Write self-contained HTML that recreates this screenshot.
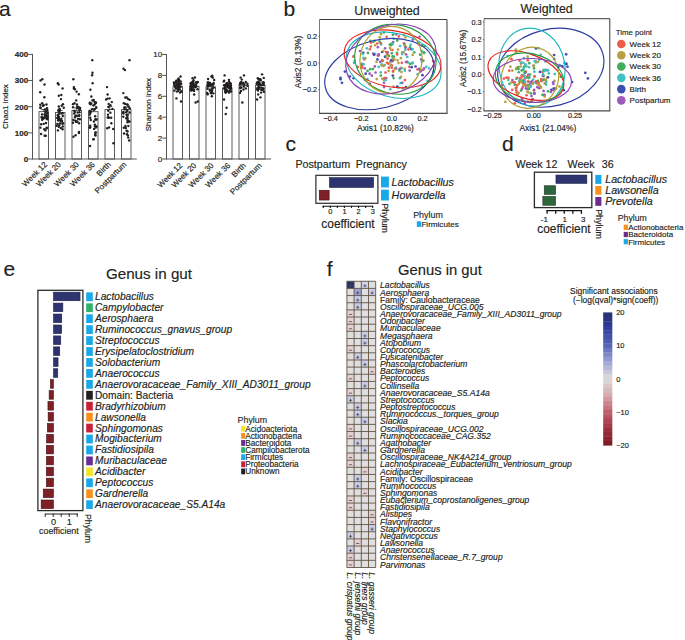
<!DOCTYPE html>
<html><head><meta charset="utf-8"><style>
html,body{margin:0;padding:0;background:#fff;width:685px;height:640px;overflow:hidden}
svg{display:block}
text{stroke:currentColor;stroke-width:0.16px;paint-order:stroke}
</style></head><body>
<svg width="685" height="640" viewBox="0 0 685 640" font-family='"Liberation Sans", sans-serif'>
<rect width="685" height="640" fill="#fff"/>
<text x="-1.00" y="15.90" font-size="21" fill="#231f20" color="#231f20">a</text>
<text x="283.40" y="15.90" font-size="21" fill="#231f20" color="#231f20">b</text>
<text x="285.60" y="150.90" font-size="21" fill="#231f20" color="#231f20">c</text>
<text x="502.00" y="150.90" font-size="21" fill="#231f20" color="#231f20">d</text>
<text x="3.60" y="276.30" font-size="21" fill="#231f20" color="#231f20">e</text>
<text x="326.80" y="276.00" font-size="21" fill="#231f20" color="#231f20">f</text>
<rect x="39.00" y="111.67" width="9.50" height="47.33" fill="#fff" stroke="#4a4a4a" stroke-width="0.9"/>
<rect x="55.50" y="112.45" width="9.50" height="46.55" fill="#fff" stroke="#4a4a4a" stroke-width="0.9"/>
<rect x="72.00" y="110.36" width="9.50" height="48.64" fill="#fff" stroke="#4a4a4a" stroke-width="0.9"/>
<rect x="88.50" y="111.67" width="9.50" height="47.33" fill="#fff" stroke="#4a4a4a" stroke-width="0.9"/>
<rect x="105.00" y="109.58" width="9.50" height="49.42" fill="#fff" stroke="#4a4a4a" stroke-width="0.9"/>
<rect x="121.50" y="109.58" width="9.50" height="49.42" fill="#fff" stroke="#4a4a4a" stroke-width="0.9"/>
<circle cx="44.71" cy="114.18" r="1.2" fill="#231f20"/>
<circle cx="42.24" cy="103.30" r="1.2" fill="#231f20"/>
<circle cx="43.81" cy="123.84" r="1.2" fill="#231f20"/>
<circle cx="42.88" cy="105.73" r="1.2" fill="#231f20"/>
<circle cx="42.62" cy="117.51" r="1.2" fill="#231f20"/>
<circle cx="44.40" cy="117.53" r="1.2" fill="#231f20"/>
<circle cx="44.39" cy="97.18" r="1.2" fill="#231f20"/>
<circle cx="46.82" cy="113.58" r="1.2" fill="#231f20"/>
<circle cx="45.13" cy="115.47" r="1.2" fill="#231f20"/>
<circle cx="47.01" cy="108.20" r="1.2" fill="#231f20"/>
<circle cx="46.46" cy="104.46" r="1.2" fill="#231f20"/>
<circle cx="47.48" cy="115.36" r="1.2" fill="#231f20"/>
<circle cx="45.05" cy="109.53" r="1.2" fill="#231f20"/>
<circle cx="41.19" cy="124.23" r="1.2" fill="#231f20"/>
<circle cx="46.49" cy="118.52" r="1.2" fill="#231f20"/>
<circle cx="47.28" cy="119.19" r="1.2" fill="#231f20"/>
<circle cx="46.83" cy="127.61" r="1.2" fill="#231f20"/>
<circle cx="44.28" cy="129.27" r="1.2" fill="#231f20"/>
<circle cx="45.38" cy="130.38" r="1.2" fill="#231f20"/>
<circle cx="41.55" cy="117.31" r="1.2" fill="#231f20"/>
<circle cx="46.27" cy="116.69" r="1.2" fill="#231f20"/>
<circle cx="44.31" cy="118.08" r="1.2" fill="#231f20"/>
<circle cx="42.12" cy="114.42" r="1.2" fill="#231f20"/>
<circle cx="40.43" cy="127.64" r="1.2" fill="#231f20"/>
<circle cx="46.44" cy="115.82" r="1.2" fill="#231f20"/>
<circle cx="47.47" cy="112.83" r="1.2" fill="#231f20"/>
<circle cx="40.62" cy="108.00" r="1.2" fill="#231f20"/>
<circle cx="46.03" cy="123.03" r="1.2" fill="#231f20"/>
<circle cx="43.07" cy="118.83" r="1.2" fill="#231f20"/>
<circle cx="41.10" cy="134.04" r="1.2" fill="#231f20"/>
<circle cx="42.18" cy="119.81" r="1.2" fill="#231f20"/>
<circle cx="45.79" cy="135.75" r="1.2" fill="#231f20"/>
<circle cx="46.58" cy="128.43" r="1.2" fill="#231f20"/>
<circle cx="40.29" cy="104.70" r="1.2" fill="#231f20"/>
<circle cx="44.62" cy="135.79" r="1.2" fill="#231f20"/>
<circle cx="40.29" cy="107.55" r="1.2" fill="#231f20"/>
<circle cx="45.41" cy="111.98" r="1.2" fill="#231f20"/>
<circle cx="42.47" cy="118.01" r="1.2" fill="#231f20"/>
<circle cx="46.64" cy="110.74" r="1.2" fill="#231f20"/>
<circle cx="47.40" cy="110.10" r="1.2" fill="#231f20"/>
<circle cx="43.79" cy="105.23" r="1.2" fill="#231f20"/>
<circle cx="47.54" cy="117.24" r="1.2" fill="#231f20"/>
<circle cx="42.30" cy="79.24" r="1.2" fill="#231f20"/>
<circle cx="40.53" cy="80.55" r="1.2" fill="#231f20"/>
<circle cx="44.51" cy="84.47" r="1.2" fill="#231f20"/>
<circle cx="40.19" cy="92.32" r="1.2" fill="#231f20"/>
<circle cx="61.59" cy="113.42" r="1.2" fill="#231f20"/>
<circle cx="63.77" cy="107.77" r="1.2" fill="#231f20"/>
<circle cx="58.36" cy="120.36" r="1.2" fill="#231f20"/>
<circle cx="59.92" cy="119.69" r="1.2" fill="#231f20"/>
<circle cx="60.95" cy="99.12" r="1.2" fill="#231f20"/>
<circle cx="58.88" cy="111.66" r="1.2" fill="#231f20"/>
<circle cx="59.22" cy="125.14" r="1.2" fill="#231f20"/>
<circle cx="58.83" cy="95.71" r="1.2" fill="#231f20"/>
<circle cx="59.26" cy="109.48" r="1.2" fill="#231f20"/>
<circle cx="60.98" cy="121.61" r="1.2" fill="#231f20"/>
<circle cx="58.73" cy="126.82" r="1.2" fill="#231f20"/>
<circle cx="59.32" cy="113.72" r="1.2" fill="#231f20"/>
<circle cx="62.32" cy="123.77" r="1.2" fill="#231f20"/>
<circle cx="56.65" cy="125.78" r="1.2" fill="#231f20"/>
<circle cx="60.78" cy="127.90" r="1.2" fill="#231f20"/>
<circle cx="62.04" cy="120.88" r="1.2" fill="#231f20"/>
<circle cx="58.81" cy="106.53" r="1.2" fill="#231f20"/>
<circle cx="58.14" cy="120.23" r="1.2" fill="#231f20"/>
<circle cx="62.56" cy="129.26" r="1.2" fill="#231f20"/>
<circle cx="58.26" cy="110.43" r="1.2" fill="#231f20"/>
<circle cx="57.87" cy="115.79" r="1.2" fill="#231f20"/>
<circle cx="59.76" cy="108.87" r="1.2" fill="#231f20"/>
<circle cx="61.76" cy="105.69" r="1.2" fill="#231f20"/>
<circle cx="57.22" cy="117.88" r="1.2" fill="#231f20"/>
<circle cx="58.90" cy="117.66" r="1.2" fill="#231f20"/>
<circle cx="58.99" cy="116.78" r="1.2" fill="#231f20"/>
<circle cx="62.78" cy="126.46" r="1.2" fill="#231f20"/>
<circle cx="59.78" cy="110.43" r="1.2" fill="#231f20"/>
<circle cx="62.95" cy="104.18" r="1.2" fill="#231f20"/>
<circle cx="57.74" cy="114.83" r="1.2" fill="#231f20"/>
<circle cx="59.01" cy="118.49" r="1.2" fill="#231f20"/>
<circle cx="61.39" cy="118.69" r="1.2" fill="#231f20"/>
<circle cx="63.18" cy="123.32" r="1.2" fill="#231f20"/>
<circle cx="59.88" cy="123.52" r="1.2" fill="#231f20"/>
<circle cx="58.16" cy="119.94" r="1.2" fill="#231f20"/>
<circle cx="57.37" cy="123.86" r="1.2" fill="#231f20"/>
<circle cx="60.48" cy="120.26" r="1.2" fill="#231f20"/>
<circle cx="57.90" cy="130.40" r="1.2" fill="#231f20"/>
<circle cx="62.58" cy="113.26" r="1.2" fill="#231f20"/>
<circle cx="62.82" cy="115.94" r="1.2" fill="#231f20"/>
<circle cx="57.85" cy="83.16" r="1.2" fill="#231f20"/>
<circle cx="58.57" cy="84.47" r="1.2" fill="#231f20"/>
<circle cx="62.58" cy="88.39" r="1.2" fill="#231f20"/>
<circle cx="61.33" cy="94.93" r="1.2" fill="#231f20"/>
<circle cx="79.79" cy="109.81" r="1.2" fill="#231f20"/>
<circle cx="77.33" cy="121.56" r="1.2" fill="#231f20"/>
<circle cx="73.05" cy="107.31" r="1.2" fill="#231f20"/>
<circle cx="78.61" cy="106.97" r="1.2" fill="#231f20"/>
<circle cx="74.26" cy="110.83" r="1.2" fill="#231f20"/>
<circle cx="75.23" cy="120.58" r="1.2" fill="#231f20"/>
<circle cx="77.99" cy="118.85" r="1.2" fill="#231f20"/>
<circle cx="76.94" cy="104.49" r="1.2" fill="#231f20"/>
<circle cx="76.09" cy="121.91" r="1.2" fill="#231f20"/>
<circle cx="80.09" cy="108.05" r="1.2" fill="#231f20"/>
<circle cx="77.60" cy="107.89" r="1.2" fill="#231f20"/>
<circle cx="75.54" cy="115.74" r="1.2" fill="#231f20"/>
<circle cx="74.87" cy="89.18" r="1.2" fill="#231f20"/>
<circle cx="79.50" cy="112.28" r="1.2" fill="#231f20"/>
<circle cx="76.58" cy="91.65" r="1.2" fill="#231f20"/>
<circle cx="78.90" cy="133.01" r="1.2" fill="#231f20"/>
<circle cx="75.62" cy="135.27" r="1.2" fill="#231f20"/>
<circle cx="74.45" cy="103.22" r="1.2" fill="#231f20"/>
<circle cx="77.01" cy="106.65" r="1.2" fill="#231f20"/>
<circle cx="79.16" cy="116.08" r="1.2" fill="#231f20"/>
<circle cx="74.25" cy="113.51" r="1.2" fill="#231f20"/>
<circle cx="78.97" cy="131.89" r="1.2" fill="#231f20"/>
<circle cx="79.96" cy="119.23" r="1.2" fill="#231f20"/>
<circle cx="79.08" cy="123.25" r="1.2" fill="#231f20"/>
<circle cx="79.21" cy="115.18" r="1.2" fill="#231f20"/>
<circle cx="73.01" cy="104.17" r="1.2" fill="#231f20"/>
<circle cx="77.73" cy="112.45" r="1.2" fill="#231f20"/>
<circle cx="79.51" cy="109.28" r="1.2" fill="#231f20"/>
<circle cx="73.33" cy="119.91" r="1.2" fill="#231f20"/>
<circle cx="75.01" cy="117.30" r="1.2" fill="#231f20"/>
<circle cx="74.99" cy="111.86" r="1.2" fill="#231f20"/>
<circle cx="76.96" cy="115.78" r="1.2" fill="#231f20"/>
<circle cx="76.16" cy="100.41" r="1.2" fill="#231f20"/>
<circle cx="76.54" cy="121.68" r="1.2" fill="#231f20"/>
<circle cx="78.85" cy="94.19" r="1.2" fill="#231f20"/>
<circle cx="72.96" cy="122.72" r="1.2" fill="#231f20"/>
<circle cx="73.37" cy="79.24" r="1.2" fill="#231f20"/>
<circle cx="73.91" cy="87.09" r="1.2" fill="#231f20"/>
<circle cx="73.90" cy="88.39" r="1.2" fill="#231f20"/>
<circle cx="73.47" cy="136.77" r="1.2" fill="#231f20"/>
<circle cx="90.39" cy="89.72" r="1.2" fill="#231f20"/>
<circle cx="95.63" cy="119.13" r="1.2" fill="#231f20"/>
<circle cx="94.48" cy="101.83" r="1.2" fill="#231f20"/>
<circle cx="96.19" cy="107.11" r="1.2" fill="#231f20"/>
<circle cx="95.47" cy="119.64" r="1.2" fill="#231f20"/>
<circle cx="94.52" cy="104.66" r="1.2" fill="#231f20"/>
<circle cx="95.03" cy="126.28" r="1.2" fill="#231f20"/>
<circle cx="93.74" cy="99.90" r="1.2" fill="#231f20"/>
<circle cx="90.23" cy="125.65" r="1.2" fill="#231f20"/>
<circle cx="93.92" cy="121.47" r="1.2" fill="#231f20"/>
<circle cx="89.49" cy="110.84" r="1.2" fill="#231f20"/>
<circle cx="90.54" cy="104.18" r="1.2" fill="#231f20"/>
<circle cx="95.33" cy="103.20" r="1.2" fill="#231f20"/>
<circle cx="89.79" cy="103.39" r="1.2" fill="#231f20"/>
<circle cx="90.15" cy="117.78" r="1.2" fill="#231f20"/>
<circle cx="90.20" cy="127.57" r="1.2" fill="#231f20"/>
<circle cx="96.14" cy="107.88" r="1.2" fill="#231f20"/>
<circle cx="90.81" cy="111.12" r="1.2" fill="#231f20"/>
<circle cx="89.63" cy="127.52" r="1.2" fill="#231f20"/>
<circle cx="95.85" cy="102.34" r="1.2" fill="#231f20"/>
<circle cx="90.37" cy="112.46" r="1.2" fill="#231f20"/>
<circle cx="95.86" cy="127.59" r="1.2" fill="#231f20"/>
<circle cx="94.57" cy="109.30" r="1.2" fill="#231f20"/>
<circle cx="95.80" cy="132.39" r="1.2" fill="#231f20"/>
<circle cx="96.69" cy="126.54" r="1.2" fill="#231f20"/>
<circle cx="93.85" cy="109.81" r="1.2" fill="#231f20"/>
<circle cx="95.52" cy="135.43" r="1.2" fill="#231f20"/>
<circle cx="89.73" cy="114.58" r="1.2" fill="#231f20"/>
<circle cx="95.28" cy="132.73" r="1.2" fill="#231f20"/>
<circle cx="93.34" cy="105.43" r="1.2" fill="#231f20"/>
<circle cx="94.89" cy="124.58" r="1.2" fill="#231f20"/>
<circle cx="90.26" cy="112.68" r="1.2" fill="#231f20"/>
<circle cx="95.14" cy="134.71" r="1.2" fill="#231f20"/>
<circle cx="96.55" cy="119.57" r="1.2" fill="#231f20"/>
<circle cx="89.91" cy="102.68" r="1.2" fill="#231f20"/>
<circle cx="91.91" cy="109.09" r="1.2" fill="#231f20"/>
<circle cx="93.74" cy="139.11" r="1.2" fill="#231f20"/>
<circle cx="95.74" cy="102.98" r="1.2" fill="#231f20"/>
<circle cx="91.29" cy="103.40" r="1.2" fill="#231f20"/>
<circle cx="90.82" cy="119.99" r="1.2" fill="#231f20"/>
<circle cx="91.35" cy="96.54" r="1.2" fill="#231f20"/>
<circle cx="94.13" cy="128.92" r="1.2" fill="#231f20"/>
<circle cx="95.18" cy="116.18" r="1.2" fill="#231f20"/>
<circle cx="92.44" cy="100.51" r="1.2" fill="#231f20"/>
<circle cx="92.24" cy="60.15" r="1.2" fill="#231f20"/>
<circle cx="92.46" cy="72.70" r="1.2" fill="#231f20"/>
<circle cx="92.11" cy="75.32" r="1.2" fill="#231f20"/>
<circle cx="92.63" cy="83.16" r="1.2" fill="#231f20"/>
<circle cx="90.08" cy="145.93" r="1.2" fill="#231f20"/>
<circle cx="93.25" cy="139.39" r="1.2" fill="#231f20"/>
<circle cx="107.46" cy="98.65" r="1.2" fill="#231f20"/>
<circle cx="110.40" cy="112.67" r="1.2" fill="#231f20"/>
<circle cx="108.34" cy="110.74" r="1.2" fill="#231f20"/>
<circle cx="107.72" cy="117.59" r="1.2" fill="#231f20"/>
<circle cx="111.20" cy="117.80" r="1.2" fill="#231f20"/>
<circle cx="113.20" cy="129.04" r="1.2" fill="#231f20"/>
<circle cx="108.20" cy="117.16" r="1.2" fill="#231f20"/>
<circle cx="111.31" cy="123.23" r="1.2" fill="#231f20"/>
<circle cx="109.09" cy="127.42" r="1.2" fill="#231f20"/>
<circle cx="112.44" cy="108.90" r="1.2" fill="#231f20"/>
<circle cx="110.39" cy="105.27" r="1.2" fill="#231f20"/>
<circle cx="107.98" cy="114.64" r="1.2" fill="#231f20"/>
<circle cx="107.60" cy="94.52" r="1.2" fill="#231f20"/>
<circle cx="106.13" cy="99.55" r="1.2" fill="#231f20"/>
<circle cx="109.59" cy="98.33" r="1.2" fill="#231f20"/>
<circle cx="108.86" cy="117.73" r="1.2" fill="#231f20"/>
<circle cx="107.26" cy="128.18" r="1.2" fill="#231f20"/>
<circle cx="108.69" cy="104.06" r="1.2" fill="#231f20"/>
<circle cx="108.40" cy="107.00" r="1.2" fill="#231f20"/>
<circle cx="111.83" cy="102.08" r="1.2" fill="#231f20"/>
<circle cx="107.04" cy="87.09" r="1.2" fill="#231f20"/>
<circle cx="113.48" cy="143.31" r="1.2" fill="#231f20"/>
<circle cx="125.77" cy="128.05" r="1.2" fill="#231f20"/>
<circle cx="126.14" cy="112.21" r="1.2" fill="#231f20"/>
<circle cx="124.05" cy="133.47" r="1.2" fill="#231f20"/>
<circle cx="126.90" cy="110.07" r="1.2" fill="#231f20"/>
<circle cx="129.71" cy="108.22" r="1.2" fill="#231f20"/>
<circle cx="125.42" cy="126.04" r="1.2" fill="#231f20"/>
<circle cx="126.59" cy="130.61" r="1.2" fill="#231f20"/>
<circle cx="123.36" cy="112.06" r="1.2" fill="#231f20"/>
<circle cx="124.54" cy="107.45" r="1.2" fill="#231f20"/>
<circle cx="127.51" cy="122.31" r="1.2" fill="#231f20"/>
<circle cx="123.31" cy="116.76" r="1.2" fill="#231f20"/>
<circle cx="129.19" cy="140.45" r="1.2" fill="#231f20"/>
<circle cx="129.36" cy="121.42" r="1.2" fill="#231f20"/>
<circle cx="123.19" cy="112.49" r="1.2" fill="#231f20"/>
<circle cx="129.60" cy="112.43" r="1.2" fill="#231f20"/>
<circle cx="125.29" cy="97.46" r="1.2" fill="#231f20"/>
<circle cx="128.32" cy="125.96" r="1.2" fill="#231f20"/>
<circle cx="128.21" cy="137.58" r="1.2" fill="#231f20"/>
<circle cx="124.70" cy="109.29" r="1.2" fill="#231f20"/>
<circle cx="127.59" cy="120.21" r="1.2" fill="#231f20"/>
<circle cx="127.42" cy="111.03" r="1.2" fill="#231f20"/>
<circle cx="128.58" cy="106.51" r="1.2" fill="#231f20"/>
<circle cx="124.47" cy="107.74" r="1.2" fill="#231f20"/>
<circle cx="128.18" cy="98.94" r="1.2" fill="#231f20"/>
<circle cx="129.76" cy="99.87" r="1.2" fill="#231f20"/>
<circle cx="127.56" cy="131.43" r="1.2" fill="#231f20"/>
<circle cx="126.52" cy="114.68" r="1.2" fill="#231f20"/>
<circle cx="123.31" cy="93.10" r="1.2" fill="#231f20"/>
<circle cx="126.20" cy="118.28" r="1.2" fill="#231f20"/>
<circle cx="125.13" cy="103.91" r="1.2" fill="#231f20"/>
<circle cx="127.91" cy="114.61" r="1.2" fill="#231f20"/>
<circle cx="127.61" cy="118.42" r="1.2" fill="#231f20"/>
<circle cx="126.75" cy="97.47" r="1.2" fill="#231f20"/>
<circle cx="123.83" cy="103.13" r="1.2" fill="#231f20"/>
<circle cx="127.36" cy="116.57" r="1.2" fill="#231f20"/>
<circle cx="127.24" cy="104.53" r="1.2" fill="#231f20"/>
<circle cx="123.81" cy="127.76" r="1.2" fill="#231f20"/>
<circle cx="129.21" cy="121.61" r="1.2" fill="#231f20"/>
<circle cx="127.43" cy="104.59" r="1.2" fill="#231f20"/>
<circle cx="123.39" cy="113.61" r="1.2" fill="#231f20"/>
<circle cx="129.53" cy="60.15" r="1.2" fill="#231f20"/>
<circle cx="123.52" cy="68.78" r="1.2" fill="#231f20"/>
<circle cx="124.97" cy="70.09" r="1.2" fill="#231f20"/>
<circle cx="127.93" cy="135.47" r="1.2" fill="#231f20"/>
<circle cx="126.99" cy="134.16" r="1.2" fill="#231f20"/>
<line x1="43.75" y1="109.58" x2="43.75" y2="111.67" stroke="#231f20" stroke-width="0.8"/>
<line x1="41.25" y1="109.58" x2="46.25" y2="109.58" stroke="#231f20" stroke-width="0.8"/>
<line x1="60.25" y1="110.36" x2="60.25" y2="112.45" stroke="#231f20" stroke-width="0.8"/>
<line x1="57.75" y1="110.36" x2="62.75" y2="110.36" stroke="#231f20" stroke-width="0.8"/>
<line x1="76.75" y1="108.01" x2="76.75" y2="110.36" stroke="#231f20" stroke-width="0.8"/>
<line x1="74.25" y1="108.01" x2="79.25" y2="108.01" stroke="#231f20" stroke-width="0.8"/>
<line x1="93.25" y1="109.05" x2="93.25" y2="111.67" stroke="#231f20" stroke-width="0.8"/>
<line x1="90.75" y1="109.05" x2="95.75" y2="109.05" stroke="#231f20" stroke-width="0.8"/>
<line x1="109.75" y1="106.44" x2="109.75" y2="109.58" stroke="#231f20" stroke-width="0.8"/>
<line x1="107.25" y1="106.44" x2="112.25" y2="106.44" stroke="#231f20" stroke-width="0.8"/>
<line x1="126.25" y1="106.96" x2="126.25" y2="109.58" stroke="#231f20" stroke-width="0.8"/>
<line x1="123.75" y1="106.96" x2="128.75" y2="106.96" stroke="#231f20" stroke-width="0.8"/>
<line x1="32.50" y1="53.90" x2="32.50" y2="159.50" stroke="#555555" stroke-width="1"/>
<line x1="32.50" y1="159.00" x2="136.80" y2="159.00" stroke="#555555" stroke-width="1"/>
<line x1="28.20" y1="159.00" x2="32.50" y2="159.00" stroke="#555555" stroke-width="1"/>
<text x="28.10" y="161.90" font-size="8" text-anchor="end" font-weight="bold" fill="#231f20" color="#231f20">0</text>
<line x1="28.20" y1="132.85" x2="32.50" y2="132.85" stroke="#555555" stroke-width="1"/>
<text x="28.10" y="135.75" font-size="8" text-anchor="end" font-weight="bold" fill="#231f20" color="#231f20">100</text>
<line x1="28.20" y1="106.70" x2="32.50" y2="106.70" stroke="#555555" stroke-width="1"/>
<text x="28.10" y="109.60" font-size="8" text-anchor="end" font-weight="bold" fill="#231f20" color="#231f20">200</text>
<line x1="28.20" y1="80.55" x2="32.50" y2="80.55" stroke="#555555" stroke-width="1"/>
<text x="28.10" y="83.45" font-size="8" text-anchor="end" font-weight="bold" fill="#231f20" color="#231f20">300</text>
<line x1="28.20" y1="54.40" x2="32.50" y2="54.40" stroke="#555555" stroke-width="1"/>
<text x="28.10" y="57.30" font-size="8" text-anchor="end" font-weight="bold" fill="#231f20" color="#231f20">400</text>
<text x="7.70" y="106.60" font-size="8" text-anchor="middle" fill="#231f20" color="#231f20" transform="rotate(-90 7.70 106.60)">Chao1 index</text>
<rect x="173.00" y="86.37" width="9.50" height="72.63" fill="#fff" stroke="#4a4a4a" stroke-width="0.9"/>
<rect x="189.50" y="86.37" width="9.50" height="72.63" fill="#fff" stroke="#4a4a4a" stroke-width="0.9"/>
<rect x="206.00" y="86.89" width="9.50" height="72.11" fill="#fff" stroke="#4a4a4a" stroke-width="0.9"/>
<rect x="222.50" y="87.94" width="9.50" height="71.06" fill="#fff" stroke="#4a4a4a" stroke-width="0.9"/>
<rect x="239.00" y="85.33" width="9.50" height="73.67" fill="#fff" stroke="#4a4a4a" stroke-width="0.9"/>
<rect x="255.50" y="85.33" width="9.50" height="73.67" fill="#fff" stroke="#4a4a4a" stroke-width="0.9"/>
<circle cx="178.27" cy="90.72" r="1.2" fill="#231f20"/>
<circle cx="175.49" cy="87.27" r="1.2" fill="#231f20"/>
<circle cx="175.85" cy="88.64" r="1.2" fill="#231f20"/>
<circle cx="179.89" cy="84.42" r="1.2" fill="#231f20"/>
<circle cx="174.18" cy="84.66" r="1.2" fill="#231f20"/>
<circle cx="180.05" cy="83.99" r="1.2" fill="#231f20"/>
<circle cx="180.72" cy="86.75" r="1.2" fill="#231f20"/>
<circle cx="181.16" cy="91.83" r="1.2" fill="#231f20"/>
<circle cx="176.86" cy="91.60" r="1.2" fill="#231f20"/>
<circle cx="178.15" cy="87.07" r="1.2" fill="#231f20"/>
<circle cx="178.38" cy="87.31" r="1.2" fill="#231f20"/>
<circle cx="178.77" cy="82.91" r="1.2" fill="#231f20"/>
<circle cx="181.38" cy="91.32" r="1.2" fill="#231f20"/>
<circle cx="179.17" cy="79.94" r="1.2" fill="#231f20"/>
<circle cx="176.23" cy="80.78" r="1.2" fill="#231f20"/>
<circle cx="180.49" cy="84.10" r="1.2" fill="#231f20"/>
<circle cx="177.63" cy="85.21" r="1.2" fill="#231f20"/>
<circle cx="178.52" cy="78.53" r="1.2" fill="#231f20"/>
<circle cx="179.47" cy="87.50" r="1.2" fill="#231f20"/>
<circle cx="173.97" cy="82.49" r="1.2" fill="#231f20"/>
<circle cx="179.81" cy="89.40" r="1.2" fill="#231f20"/>
<circle cx="178.98" cy="82.50" r="1.2" fill="#231f20"/>
<circle cx="177.69" cy="84.82" r="1.2" fill="#231f20"/>
<circle cx="177.93" cy="89.00" r="1.2" fill="#231f20"/>
<circle cx="177.45" cy="84.22" r="1.2" fill="#231f20"/>
<circle cx="175.42" cy="86.92" r="1.2" fill="#231f20"/>
<circle cx="177.97" cy="85.56" r="1.2" fill="#231f20"/>
<circle cx="174.23" cy="83.52" r="1.2" fill="#231f20"/>
<circle cx="177.75" cy="80.09" r="1.2" fill="#231f20"/>
<circle cx="178.86" cy="80.84" r="1.2" fill="#231f20"/>
<circle cx="177.33" cy="85.69" r="1.2" fill="#231f20"/>
<circle cx="178.25" cy="87.84" r="1.2" fill="#231f20"/>
<circle cx="181.24" cy="83.79" r="1.2" fill="#231f20"/>
<circle cx="180.73" cy="81.50" r="1.2" fill="#231f20"/>
<circle cx="174.98" cy="85.63" r="1.2" fill="#231f20"/>
<circle cx="179.97" cy="92.62" r="1.2" fill="#231f20"/>
<circle cx="178.69" cy="85.37" r="1.2" fill="#231f20"/>
<circle cx="174.33" cy="90.64" r="1.2" fill="#231f20"/>
<circle cx="176.69" cy="82.90" r="1.2" fill="#231f20"/>
<circle cx="175.72" cy="82.14" r="1.2" fill="#231f20"/>
<circle cx="174.54" cy="83.64" r="1.2" fill="#231f20"/>
<circle cx="178.05" cy="80.77" r="1.2" fill="#231f20"/>
<circle cx="181.02" cy="101.53" r="1.2" fill="#231f20"/>
<circle cx="176.41" cy="98.39" r="1.2" fill="#231f20"/>
<circle cx="180.57" cy="76.45" r="1.2" fill="#231f20"/>
<circle cx="193.95" cy="86.58" r="1.2" fill="#231f20"/>
<circle cx="191.93" cy="87.86" r="1.2" fill="#231f20"/>
<circle cx="192.04" cy="82.46" r="1.2" fill="#231f20"/>
<circle cx="191.75" cy="90.03" r="1.2" fill="#231f20"/>
<circle cx="193.52" cy="80.20" r="1.2" fill="#231f20"/>
<circle cx="191.73" cy="88.64" r="1.2" fill="#231f20"/>
<circle cx="190.66" cy="86.09" r="1.2" fill="#231f20"/>
<circle cx="191.29" cy="89.49" r="1.2" fill="#231f20"/>
<circle cx="191.73" cy="82.64" r="1.2" fill="#231f20"/>
<circle cx="194.18" cy="94.47" r="1.2" fill="#231f20"/>
<circle cx="190.90" cy="83.11" r="1.2" fill="#231f20"/>
<circle cx="190.62" cy="89.10" r="1.2" fill="#231f20"/>
<circle cx="193.85" cy="85.65" r="1.2" fill="#231f20"/>
<circle cx="193.55" cy="90.42" r="1.2" fill="#231f20"/>
<circle cx="195.80" cy="84.94" r="1.2" fill="#231f20"/>
<circle cx="190.84" cy="85.11" r="1.2" fill="#231f20"/>
<circle cx="193.52" cy="83.51" r="1.2" fill="#231f20"/>
<circle cx="193.46" cy="84.60" r="1.2" fill="#231f20"/>
<circle cx="190.65" cy="83.38" r="1.2" fill="#231f20"/>
<circle cx="197.79" cy="81.91" r="1.2" fill="#231f20"/>
<circle cx="192.11" cy="87.40" r="1.2" fill="#231f20"/>
<circle cx="191.17" cy="90.53" r="1.2" fill="#231f20"/>
<circle cx="194.06" cy="90.92" r="1.2" fill="#231f20"/>
<circle cx="191.70" cy="83.15" r="1.2" fill="#231f20"/>
<circle cx="195.18" cy="87.34" r="1.2" fill="#231f20"/>
<circle cx="193.08" cy="81.67" r="1.2" fill="#231f20"/>
<circle cx="191.39" cy="85.67" r="1.2" fill="#231f20"/>
<circle cx="190.84" cy="89.87" r="1.2" fill="#231f20"/>
<circle cx="195.98" cy="82.25" r="1.2" fill="#231f20"/>
<circle cx="192.54" cy="78.14" r="1.2" fill="#231f20"/>
<circle cx="196.44" cy="86.57" r="1.2" fill="#231f20"/>
<circle cx="193.99" cy="89.58" r="1.2" fill="#231f20"/>
<circle cx="197.54" cy="89.21" r="1.2" fill="#231f20"/>
<circle cx="192.73" cy="82.32" r="1.2" fill="#231f20"/>
<circle cx="192.35" cy="88.17" r="1.2" fill="#231f20"/>
<circle cx="192.47" cy="87.46" r="1.2" fill="#231f20"/>
<circle cx="196.64" cy="83.13" r="1.2" fill="#231f20"/>
<circle cx="195.23" cy="85.80" r="1.2" fill="#231f20"/>
<circle cx="193.07" cy="85.39" r="1.2" fill="#231f20"/>
<circle cx="191.16" cy="88.01" r="1.2" fill="#231f20"/>
<circle cx="195.64" cy="102.57" r="1.2" fill="#231f20"/>
<circle cx="197.82" cy="101.53" r="1.2" fill="#231f20"/>
<circle cx="194.95" cy="77.49" r="1.2" fill="#231f20"/>
<circle cx="210.60" cy="84.87" r="1.2" fill="#231f20"/>
<circle cx="209.00" cy="85.83" r="1.2" fill="#231f20"/>
<circle cx="208.24" cy="83.81" r="1.2" fill="#231f20"/>
<circle cx="212.43" cy="84.54" r="1.2" fill="#231f20"/>
<circle cx="211.55" cy="84.56" r="1.2" fill="#231f20"/>
<circle cx="212.35" cy="85.55" r="1.2" fill="#231f20"/>
<circle cx="209.89" cy="90.67" r="1.2" fill="#231f20"/>
<circle cx="210.65" cy="92.88" r="1.2" fill="#231f20"/>
<circle cx="208.12" cy="82.58" r="1.2" fill="#231f20"/>
<circle cx="212.35" cy="75.64" r="1.2" fill="#231f20"/>
<circle cx="207.12" cy="92.94" r="1.2" fill="#231f20"/>
<circle cx="210.50" cy="84.81" r="1.2" fill="#231f20"/>
<circle cx="212.71" cy="77.67" r="1.2" fill="#231f20"/>
<circle cx="212.10" cy="90.52" r="1.2" fill="#231f20"/>
<circle cx="207.69" cy="82.54" r="1.2" fill="#231f20"/>
<circle cx="208.75" cy="85.13" r="1.2" fill="#231f20"/>
<circle cx="213.36" cy="93.37" r="1.2" fill="#231f20"/>
<circle cx="211.83" cy="91.83" r="1.2" fill="#231f20"/>
<circle cx="213.63" cy="83.03" r="1.2" fill="#231f20"/>
<circle cx="213.58" cy="84.12" r="1.2" fill="#231f20"/>
<circle cx="210.37" cy="84.70" r="1.2" fill="#231f20"/>
<circle cx="213.77" cy="87.44" r="1.2" fill="#231f20"/>
<circle cx="212.52" cy="88.61" r="1.2" fill="#231f20"/>
<circle cx="209.49" cy="83.56" r="1.2" fill="#231f20"/>
<circle cx="209.76" cy="89.73" r="1.2" fill="#231f20"/>
<circle cx="207.50" cy="94.10" r="1.2" fill="#231f20"/>
<circle cx="209.98" cy="82.88" r="1.2" fill="#231f20"/>
<circle cx="214.21" cy="80.05" r="1.2" fill="#231f20"/>
<circle cx="207.75" cy="86.61" r="1.2" fill="#231f20"/>
<circle cx="211.27" cy="93.36" r="1.2" fill="#231f20"/>
<circle cx="207.79" cy="94.35" r="1.2" fill="#231f20"/>
<circle cx="207.56" cy="88.81" r="1.2" fill="#231f20"/>
<circle cx="211.88" cy="88.53" r="1.2" fill="#231f20"/>
<circle cx="208.78" cy="82.73" r="1.2" fill="#231f20"/>
<circle cx="207.32" cy="84.96" r="1.2" fill="#231f20"/>
<circle cx="208.11" cy="79.00" r="1.2" fill="#231f20"/>
<circle cx="211.85" cy="96.30" r="1.2" fill="#231f20"/>
<circle cx="211.40" cy="76.45" r="1.2" fill="#231f20"/>
<circle cx="226.66" cy="83.51" r="1.2" fill="#231f20"/>
<circle cx="228.38" cy="86.16" r="1.2" fill="#231f20"/>
<circle cx="228.05" cy="83.63" r="1.2" fill="#231f20"/>
<circle cx="225.08" cy="86.94" r="1.2" fill="#231f20"/>
<circle cx="226.11" cy="90.20" r="1.2" fill="#231f20"/>
<circle cx="231.02" cy="87.96" r="1.2" fill="#231f20"/>
<circle cx="226.00" cy="85.32" r="1.2" fill="#231f20"/>
<circle cx="226.72" cy="91.68" r="1.2" fill="#231f20"/>
<circle cx="224.09" cy="85.19" r="1.2" fill="#231f20"/>
<circle cx="225.11" cy="91.14" r="1.2" fill="#231f20"/>
<circle cx="224.71" cy="85.43" r="1.2" fill="#231f20"/>
<circle cx="230.53" cy="84.07" r="1.2" fill="#231f20"/>
<circle cx="228.97" cy="79.85" r="1.2" fill="#231f20"/>
<circle cx="230.10" cy="82.83" r="1.2" fill="#231f20"/>
<circle cx="230.95" cy="85.71" r="1.2" fill="#231f20"/>
<circle cx="228.10" cy="85.80" r="1.2" fill="#231f20"/>
<circle cx="230.53" cy="83.78" r="1.2" fill="#231f20"/>
<circle cx="227.52" cy="86.93" r="1.2" fill="#231f20"/>
<circle cx="226.63" cy="85.05" r="1.2" fill="#231f20"/>
<circle cx="230.66" cy="87.42" r="1.2" fill="#231f20"/>
<circle cx="230.31" cy="89.12" r="1.2" fill="#231f20"/>
<circle cx="230.67" cy="85.76" r="1.2" fill="#231f20"/>
<circle cx="227.13" cy="83.74" r="1.2" fill="#231f20"/>
<circle cx="229.33" cy="91.19" r="1.2" fill="#231f20"/>
<circle cx="226.54" cy="90.60" r="1.2" fill="#231f20"/>
<circle cx="231.03" cy="91.60" r="1.2" fill="#231f20"/>
<circle cx="230.44" cy="83.84" r="1.2" fill="#231f20"/>
<circle cx="225.67" cy="89.01" r="1.2" fill="#231f20"/>
<circle cx="230.55" cy="89.81" r="1.2" fill="#231f20"/>
<circle cx="224.85" cy="88.98" r="1.2" fill="#231f20"/>
<circle cx="224.18" cy="80.59" r="1.2" fill="#231f20"/>
<circle cx="228.94" cy="81.53" r="1.2" fill="#231f20"/>
<circle cx="225.69" cy="92.42" r="1.2" fill="#231f20"/>
<circle cx="227.40" cy="90.45" r="1.2" fill="#231f20"/>
<circle cx="228.31" cy="85.02" r="1.2" fill="#231f20"/>
<circle cx="223.76" cy="81.62" r="1.2" fill="#231f20"/>
<circle cx="229.11" cy="92.62" r="1.2" fill="#231f20"/>
<circle cx="225.55" cy="84.94" r="1.2" fill="#231f20"/>
<circle cx="226.74" cy="83.13" r="1.2" fill="#231f20"/>
<circle cx="226.07" cy="84.66" r="1.2" fill="#231f20"/>
<circle cx="229.09" cy="87.90" r="1.2" fill="#231f20"/>
<circle cx="229.13" cy="86.22" r="1.2" fill="#231f20"/>
<circle cx="225.63" cy="92.50" r="1.2" fill="#231f20"/>
<circle cx="224.24" cy="88.48" r="1.2" fill="#231f20"/>
<circle cx="225.72" cy="114.06" r="1.2" fill="#231f20"/>
<circle cx="226.57" cy="107.80" r="1.2" fill="#231f20"/>
<circle cx="224.04" cy="99.44" r="1.2" fill="#231f20"/>
<circle cx="224.61" cy="75.40" r="1.2" fill="#231f20"/>
<circle cx="240.03" cy="84.31" r="1.2" fill="#231f20"/>
<circle cx="240.95" cy="90.95" r="1.2" fill="#231f20"/>
<circle cx="243.98" cy="75.40" r="1.2" fill="#231f20"/>
<circle cx="244.02" cy="86.44" r="1.2" fill="#231f20"/>
<circle cx="241.21" cy="82.07" r="1.2" fill="#231f20"/>
<circle cx="240.33" cy="87.50" r="1.2" fill="#231f20"/>
<circle cx="241.50" cy="82.99" r="1.2" fill="#231f20"/>
<circle cx="245.80" cy="81.89" r="1.2" fill="#231f20"/>
<circle cx="243.49" cy="89.53" r="1.2" fill="#231f20"/>
<circle cx="247.39" cy="83.69" r="1.2" fill="#231f20"/>
<circle cx="245.92" cy="88.42" r="1.2" fill="#231f20"/>
<circle cx="247.39" cy="85.78" r="1.2" fill="#231f20"/>
<circle cx="240.22" cy="82.85" r="1.2" fill="#231f20"/>
<circle cx="241.36" cy="87.40" r="1.2" fill="#231f20"/>
<circle cx="240.05" cy="92.87" r="1.2" fill="#231f20"/>
<circle cx="243.24" cy="82.90" r="1.2" fill="#231f20"/>
<circle cx="242.52" cy="83.63" r="1.2" fill="#231f20"/>
<circle cx="240.34" cy="87.93" r="1.2" fill="#231f20"/>
<circle cx="244.10" cy="84.47" r="1.2" fill="#231f20"/>
<circle cx="240.66" cy="77.61" r="1.2" fill="#231f20"/>
<circle cx="242.32" cy="102.57" r="1.2" fill="#231f20"/>
<circle cx="241.83" cy="79.58" r="1.2" fill="#231f20"/>
<circle cx="257.63" cy="83.48" r="1.2" fill="#231f20"/>
<circle cx="258.84" cy="88.72" r="1.2" fill="#231f20"/>
<circle cx="260.42" cy="84.88" r="1.2" fill="#231f20"/>
<circle cx="259.58" cy="83.62" r="1.2" fill="#231f20"/>
<circle cx="262.92" cy="89.85" r="1.2" fill="#231f20"/>
<circle cx="262.74" cy="82.42" r="1.2" fill="#231f20"/>
<circle cx="263.53" cy="88.77" r="1.2" fill="#231f20"/>
<circle cx="261.10" cy="92.62" r="1.2" fill="#231f20"/>
<circle cx="256.68" cy="83.73" r="1.2" fill="#231f20"/>
<circle cx="260.82" cy="87.60" r="1.2" fill="#231f20"/>
<circle cx="260.63" cy="80.40" r="1.2" fill="#231f20"/>
<circle cx="260.16" cy="79.77" r="1.2" fill="#231f20"/>
<circle cx="258.58" cy="83.64" r="1.2" fill="#231f20"/>
<circle cx="261.84" cy="89.40" r="1.2" fill="#231f20"/>
<circle cx="263.38" cy="82.35" r="1.2" fill="#231f20"/>
<circle cx="257.23" cy="89.20" r="1.2" fill="#231f20"/>
<circle cx="261.53" cy="85.25" r="1.2" fill="#231f20"/>
<circle cx="259.27" cy="82.43" r="1.2" fill="#231f20"/>
<circle cx="260.36" cy="79.14" r="1.2" fill="#231f20"/>
<circle cx="263.26" cy="84.20" r="1.2" fill="#231f20"/>
<circle cx="263.75" cy="77.91" r="1.2" fill="#231f20"/>
<circle cx="261.34" cy="90.01" r="1.2" fill="#231f20"/>
<circle cx="257.93" cy="90.56" r="1.2" fill="#231f20"/>
<circle cx="263.45" cy="83.61" r="1.2" fill="#231f20"/>
<circle cx="257.83" cy="78.24" r="1.2" fill="#231f20"/>
<circle cx="259.36" cy="87.96" r="1.2" fill="#231f20"/>
<circle cx="262.74" cy="88.09" r="1.2" fill="#231f20"/>
<circle cx="258.85" cy="87.27" r="1.2" fill="#231f20"/>
<circle cx="258.51" cy="87.22" r="1.2" fill="#231f20"/>
<circle cx="263.67" cy="85.09" r="1.2" fill="#231f20"/>
<circle cx="263.62" cy="82.34" r="1.2" fill="#231f20"/>
<circle cx="258.86" cy="79.31" r="1.2" fill="#231f20"/>
<circle cx="259.43" cy="79.81" r="1.2" fill="#231f20"/>
<circle cx="258.59" cy="85.05" r="1.2" fill="#231f20"/>
<circle cx="257.45" cy="87.90" r="1.2" fill="#231f20"/>
<circle cx="258.35" cy="82.79" r="1.2" fill="#231f20"/>
<circle cx="263.90" cy="91.68" r="1.2" fill="#231f20"/>
<circle cx="257.05" cy="82.80" r="1.2" fill="#231f20"/>
<circle cx="258.20" cy="94.41" r="1.2" fill="#231f20"/>
<circle cx="257.97" cy="81.85" r="1.2" fill="#231f20"/>
<circle cx="257.05" cy="99.44" r="1.2" fill="#231f20"/>
<circle cx="260.45" cy="97.34" r="1.2" fill="#231f20"/>
<circle cx="262.10" cy="74.36" r="1.2" fill="#231f20"/>
<line x1="177.75" y1="85.12" x2="177.75" y2="86.37" stroke="#231f20" stroke-width="0.8"/>
<line x1="175.25" y1="85.12" x2="180.25" y2="85.12" stroke="#231f20" stroke-width="0.8"/>
<line x1="194.25" y1="85.12" x2="194.25" y2="86.37" stroke="#231f20" stroke-width="0.8"/>
<line x1="191.75" y1="85.12" x2="196.75" y2="85.12" stroke="#231f20" stroke-width="0.8"/>
<line x1="210.75" y1="85.85" x2="210.75" y2="86.89" stroke="#231f20" stroke-width="0.8"/>
<line x1="208.25" y1="85.85" x2="213.25" y2="85.85" stroke="#231f20" stroke-width="0.8"/>
<line x1="227.25" y1="86.37" x2="227.25" y2="87.94" stroke="#231f20" stroke-width="0.8"/>
<line x1="224.75" y1="86.37" x2="229.75" y2="86.37" stroke="#231f20" stroke-width="0.8"/>
<line x1="243.75" y1="83.76" x2="243.75" y2="85.33" stroke="#231f20" stroke-width="0.8"/>
<line x1="241.25" y1="83.76" x2="246.25" y2="83.76" stroke="#231f20" stroke-width="0.8"/>
<line x1="260.25" y1="84.07" x2="260.25" y2="85.33" stroke="#231f20" stroke-width="0.8"/>
<line x1="257.75" y1="84.07" x2="262.75" y2="84.07" stroke="#231f20" stroke-width="0.8"/>
<line x1="166.50" y1="54.00" x2="166.50" y2="159.50" stroke="#555555" stroke-width="1"/>
<line x1="166.50" y1="159.00" x2="271.00" y2="159.00" stroke="#555555" stroke-width="1"/>
<line x1="162.20" y1="159.00" x2="166.50" y2="159.00" stroke="#555555" stroke-width="1"/>
<text x="162.10" y="161.90" font-size="8" text-anchor="end" fill="#231f20" color="#231f20">0</text>
<line x1="162.20" y1="138.10" x2="166.50" y2="138.10" stroke="#555555" stroke-width="1"/>
<text x="162.10" y="141.00" font-size="8" text-anchor="end" fill="#231f20" color="#231f20">2</text>
<line x1="162.20" y1="117.20" x2="166.50" y2="117.20" stroke="#555555" stroke-width="1"/>
<text x="162.10" y="120.10" font-size="8" text-anchor="end" fill="#231f20" color="#231f20">4</text>
<line x1="162.20" y1="96.30" x2="166.50" y2="96.30" stroke="#555555" stroke-width="1"/>
<text x="162.10" y="99.20" font-size="8" text-anchor="end" fill="#231f20" color="#231f20">6</text>
<line x1="162.20" y1="75.40" x2="166.50" y2="75.40" stroke="#555555" stroke-width="1"/>
<text x="162.10" y="78.30" font-size="8" text-anchor="end" fill="#231f20" color="#231f20">8</text>
<line x1="162.20" y1="54.50" x2="166.50" y2="54.50" stroke="#555555" stroke-width="1"/>
<text x="162.10" y="57.40" font-size="8" text-anchor="end" fill="#231f20" color="#231f20">10</text>
<text x="151.20" y="104.60" font-size="8" text-anchor="middle" fill="#231f20" color="#231f20" transform="rotate(-90 151.20 104.60)">Shannon index</text>
<text x="47.60" y="165.00" font-size="8" text-anchor="end" fill="#231f20" color="#231f20" transform="rotate(-45 47.60 165.00)">Week 12</text>
<text x="182.90" y="166.00" font-size="8" text-anchor="end" fill="#231f20" color="#231f20" transform="rotate(-45 182.90 166.00)">Week 12</text>
<text x="61.40" y="165.00" font-size="8" text-anchor="end" fill="#231f20" color="#231f20" transform="rotate(-45 61.40 165.00)">Week 20</text>
<text x="196.90" y="166.00" font-size="8" text-anchor="end" fill="#231f20" color="#231f20" transform="rotate(-45 196.90 166.00)">Week 20</text>
<text x="79.50" y="165.00" font-size="8" text-anchor="end" fill="#231f20" color="#231f20" transform="rotate(-45 79.50 165.00)">Week 30</text>
<text x="214.10" y="166.00" font-size="8" text-anchor="end" fill="#231f20" color="#231f20" transform="rotate(-45 214.10 166.00)">Week 30</text>
<text x="95.50" y="165.00" font-size="8" text-anchor="end" fill="#231f20" color="#231f20" transform="rotate(-45 95.50 165.00)">Week 36</text>
<text x="230.80" y="166.00" font-size="8" text-anchor="end" fill="#231f20" color="#231f20" transform="rotate(-45 230.80 166.00)">Week 36</text>
<text x="111.30" y="165.00" font-size="8" text-anchor="end" fill="#231f20" color="#231f20" transform="rotate(-45 111.30 165.00)">Birth</text>
<text x="246.30" y="166.00" font-size="8" text-anchor="end" fill="#231f20" color="#231f20" transform="rotate(-45 246.30 166.00)">Birth</text>
<text x="127.00" y="165.00" font-size="8" text-anchor="end" fill="#231f20" color="#231f20" transform="rotate(-45 127.00 165.00)">Postpartum</text>
<text x="262.10" y="166.00" font-size="8" text-anchor="end" fill="#231f20" color="#231f20" transform="rotate(-45 262.10 166.00)">Postpartum</text>
<circle cx="381.09" cy="44.31" r="1.35" fill="#3fc0c2"/>
<circle cx="403.99" cy="43.30" r="1.35" fill="#ef5b4b"/>
<circle cx="386.10" cy="78.15" r="1.35" fill="#9a5bbb"/>
<circle cx="402.60" cy="88.19" r="1.35" fill="#3fc0c2"/>
<circle cx="400.88" cy="58.18" r="1.35" fill="#b79f43"/>
<circle cx="375.07" cy="45.27" r="1.35" fill="#b79f43"/>
<circle cx="417.55" cy="69.46" r="1.35" fill="#ef5b4b"/>
<circle cx="374.82" cy="66.40" r="1.35" fill="#9a5bbb"/>
<circle cx="404.48" cy="44.30" r="1.35" fill="#40ad5a"/>
<circle cx="389.92" cy="47.87" r="1.35" fill="#b79f43"/>
<circle cx="374.62" cy="40.67" r="1.35" fill="#b79f43"/>
<circle cx="409.98" cy="47.26" r="1.35" fill="#40ad5a"/>
<circle cx="395.65" cy="67.68" r="1.35" fill="#3fc0c2"/>
<circle cx="362.17" cy="65.45" r="1.35" fill="#ef5b4b"/>
<circle cx="380.92" cy="34.20" r="1.35" fill="#b79f43"/>
<circle cx="420.14" cy="54.64" r="1.35" fill="#40ad5a"/>
<circle cx="402.10" cy="54.08" r="1.35" fill="#3fc0c2"/>
<circle cx="380.86" cy="43.17" r="1.35" fill="#ef5b4b"/>
<circle cx="387.39" cy="54.30" r="1.35" fill="#ef5b4b"/>
<circle cx="398.09" cy="49.60" r="1.35" fill="#b79f43"/>
<circle cx="433.07" cy="61.00" r="1.35" fill="#ef5b4b"/>
<circle cx="391.03" cy="64.81" r="1.35" fill="#3fc0c2"/>
<circle cx="369.81" cy="83.95" r="1.35" fill="#3d4fb2"/>
<circle cx="423.48" cy="69.56" r="1.35" fill="#ef5b4b"/>
<circle cx="392.44" cy="49.98" r="1.35" fill="#ef5b4b"/>
<circle cx="383.98" cy="82.80" r="1.35" fill="#9a5bbb"/>
<circle cx="400.74" cy="83.20" r="1.35" fill="#3fc0c2"/>
<circle cx="380.74" cy="72.32" r="1.35" fill="#3fc0c2"/>
<circle cx="421.89" cy="61.39" r="1.35" fill="#3fc0c2"/>
<circle cx="393.62" cy="78.12" r="1.35" fill="#40ad5a"/>
<circle cx="393.19" cy="41.99" r="1.35" fill="#9a5bbb"/>
<circle cx="383.72" cy="79.71" r="1.35" fill="#b79f43"/>
<circle cx="401.49" cy="72.10" r="1.35" fill="#b79f43"/>
<circle cx="382.13" cy="51.98" r="1.35" fill="#3d4fb2"/>
<circle cx="408.07" cy="62.52" r="1.35" fill="#3fc0c2"/>
<circle cx="377.44" cy="59.38" r="1.35" fill="#3d4fb2"/>
<circle cx="392.59" cy="56.43" r="1.35" fill="#40ad5a"/>
<circle cx="369.60" cy="73.65" r="1.35" fill="#9a5bbb"/>
<circle cx="410.11" cy="63.88" r="1.35" fill="#40ad5a"/>
<circle cx="369.88" cy="49.26" r="1.35" fill="#ef5b4b"/>
<circle cx="426.33" cy="66.84" r="1.35" fill="#3fc0c2"/>
<circle cx="427.53" cy="80.84" r="1.35" fill="#3fc0c2"/>
<circle cx="361.64" cy="63.95" r="1.35" fill="#9a5bbb"/>
<circle cx="419.57" cy="36.74" r="1.35" fill="#9a5bbb"/>
<circle cx="397.22" cy="40.45" r="1.35" fill="#40ad5a"/>
<circle cx="385.47" cy="72.50" r="1.35" fill="#ef5b4b"/>
<circle cx="402.13" cy="52.39" r="1.35" fill="#b79f43"/>
<circle cx="424.79" cy="46.01" r="1.35" fill="#40ad5a"/>
<circle cx="393.17" cy="71.86" r="1.35" fill="#b79f43"/>
<circle cx="405.37" cy="37.48" r="1.35" fill="#b79f43"/>
<circle cx="380.80" cy="75.61" r="1.35" fill="#40ad5a"/>
<circle cx="371.84" cy="75.70" r="1.35" fill="#9a5bbb"/>
<circle cx="398.46" cy="63.06" r="1.35" fill="#b79f43"/>
<circle cx="384.81" cy="65.11" r="1.35" fill="#3fc0c2"/>
<circle cx="391.66" cy="43.60" r="1.35" fill="#40ad5a"/>
<circle cx="398.37" cy="87.60" r="1.35" fill="#3fc0c2"/>
<circle cx="353.80" cy="56.14" r="1.35" fill="#ef5b4b"/>
<circle cx="398.78" cy="36.39" r="1.35" fill="#ef5b4b"/>
<circle cx="341.94" cy="82.83" r="1.35" fill="#3d4fb2"/>
<circle cx="420.54" cy="71.33" r="1.35" fill="#3d4fb2"/>
<circle cx="378.73" cy="66.93" r="1.35" fill="#3fc0c2"/>
<circle cx="388.92" cy="67.72" r="1.35" fill="#ef5b4b"/>
<circle cx="340.53" cy="79.16" r="1.35" fill="#3d4fb2"/>
<circle cx="414.26" cy="52.36" r="1.35" fill="#40ad5a"/>
<circle cx="405.28" cy="49.65" r="1.35" fill="#3fc0c2"/>
<circle cx="394.75" cy="59.51" r="1.35" fill="#b79f43"/>
<circle cx="403.46" cy="52.37" r="1.35" fill="#3fc0c2"/>
<circle cx="393.10" cy="70.99" r="1.35" fill="#ef5b4b"/>
<circle cx="382.62" cy="60.94" r="1.35" fill="#40ad5a"/>
<circle cx="388.36" cy="63.66" r="1.35" fill="#ef5b4b"/>
<circle cx="415.57" cy="66.52" r="1.35" fill="#3d4fb2"/>
<circle cx="379.60" cy="41.62" r="1.35" fill="#40ad5a"/>
<circle cx="364.81" cy="68.40" r="1.35" fill="#9a5bbb"/>
<circle cx="385.10" cy="56.95" r="1.35" fill="#40ad5a"/>
<circle cx="354.69" cy="60.93" r="1.35" fill="#3fc0c2"/>
<circle cx="421.47" cy="70.46" r="1.35" fill="#9a5bbb"/>
<circle cx="389.76" cy="44.60" r="1.35" fill="#40ad5a"/>
<circle cx="390.31" cy="62.13" r="1.35" fill="#b79f43"/>
<circle cx="404.71" cy="68.82" r="1.35" fill="#b79f43"/>
<circle cx="363.30" cy="52.77" r="1.35" fill="#3d4fb2"/>
<circle cx="364.27" cy="59.29" r="1.35" fill="#ef5b4b"/>
<circle cx="349.96" cy="76.49" r="1.35" fill="#3d4fb2"/>
<circle cx="401.84" cy="62.83" r="1.35" fill="#ef5b4b"/>
<circle cx="391.80" cy="67.68" r="1.35" fill="#ef5b4b"/>
<circle cx="353.55" cy="56.74" r="1.35" fill="#ef5b4b"/>
<circle cx="392.76" cy="43.96" r="1.35" fill="#3fc0c2"/>
<circle cx="383.86" cy="32.48" r="1.35" fill="#40ad5a"/>
<circle cx="419.11" cy="68.92" r="1.35" fill="#9a5bbb"/>
<circle cx="401.65" cy="68.47" r="1.35" fill="#3fc0c2"/>
<circle cx="391.02" cy="49.80" r="1.35" fill="#b79f43"/>
<circle cx="417.56" cy="74.25" r="1.35" fill="#3fc0c2"/>
<circle cx="412.66" cy="54.80" r="1.35" fill="#b79f43"/>
<circle cx="391.68" cy="65.44" r="1.35" fill="#ef5b4b"/>
<circle cx="387.05" cy="62.75" r="1.35" fill="#ef5b4b"/>
<circle cx="400.04" cy="46.02" r="1.35" fill="#3fc0c2"/>
<circle cx="387.60" cy="58.66" r="1.35" fill="#ef5b4b"/>
<circle cx="423.37" cy="60.58" r="1.35" fill="#40ad5a"/>
<circle cx="408.52" cy="49.43" r="1.35" fill="#ef5b4b"/>
<circle cx="390.32" cy="89.23" r="1.35" fill="#3fc0c2"/>
<circle cx="403.62" cy="52.08" r="1.35" fill="#b79f43"/>
<circle cx="376.49" cy="61.87" r="1.35" fill="#b79f43"/>
<circle cx="397.00" cy="52.89" r="1.35" fill="#40ad5a"/>
<circle cx="413.54" cy="36.60" r="1.35" fill="#9a5bbb"/>
<circle cx="370.38" cy="40.93" r="1.35" fill="#40ad5a"/>
<circle cx="375.60" cy="72.50" r="1.35" fill="#9a5bbb"/>
<circle cx="411.39" cy="49.19" r="1.35" fill="#3d4fb2"/>
<circle cx="382.38" cy="78.70" r="1.35" fill="#b79f43"/>
<circle cx="390.72" cy="65.50" r="1.35" fill="#b79f43"/>
<circle cx="406.01" cy="87.00" r="1.35" fill="#3d4fb2"/>
<circle cx="396.06" cy="34.28" r="1.35" fill="#9a5bbb"/>
<circle cx="393.53" cy="86.56" r="1.35" fill="#b79f43"/>
<circle cx="362.03" cy="67.66" r="1.35" fill="#ef5b4b"/>
<circle cx="424.01" cy="52.57" r="1.35" fill="#9a5bbb"/>
<circle cx="365.64" cy="73.68" r="1.35" fill="#3d4fb2"/>
<circle cx="422.34" cy="86.56" r="1.35" fill="#3fc0c2"/>
<circle cx="385.11" cy="48.34" r="1.35" fill="#9a5bbb"/>
<circle cx="379.66" cy="37.34" r="1.35" fill="#b79f43"/>
<circle cx="382.13" cy="60.18" r="1.35" fill="#ef5b4b"/>
<circle cx="423.91" cy="53.01" r="1.35" fill="#40ad5a"/>
<circle cx="360.03" cy="51.11" r="1.35" fill="#9a5bbb"/>
<circle cx="375.18" cy="53.75" r="1.35" fill="#3fc0c2"/>
<circle cx="384.10" cy="87.05" r="1.35" fill="#9a5bbb"/>
<circle cx="393.72" cy="56.63" r="1.35" fill="#40ad5a"/>
<circle cx="399.86" cy="78.15" r="1.35" fill="#3fc0c2"/>
<circle cx="412.50" cy="63.47" r="1.35" fill="#40ad5a"/>
<circle cx="388.51" cy="70.79" r="1.35" fill="#b79f43"/>
<circle cx="418.25" cy="42.93" r="1.35" fill="#40ad5a"/>
<circle cx="370.80" cy="46.53" r="1.35" fill="#ef5b4b"/>
<circle cx="392.67" cy="59.17" r="1.35" fill="#ef5b4b"/>
<circle cx="354.01" cy="62.78" r="1.35" fill="#3fc0c2"/>
<circle cx="393.20" cy="58.80" r="1.35" fill="#b79f43"/>
<circle cx="397.15" cy="86.88" r="1.35" fill="#3fc0c2"/>
<circle cx="420.15" cy="70.89" r="1.35" fill="#9a5bbb"/>
<circle cx="392.73" cy="61.11" r="1.35" fill="#9a5bbb"/>
<circle cx="373.17" cy="53.60" r="1.35" fill="#9a5bbb"/>
<circle cx="381.90" cy="64.43" r="1.35" fill="#3fc0c2"/>
<circle cx="422.45" cy="75.14" r="1.35" fill="#3d4fb2"/>
<circle cx="340.50" cy="77.77" r="1.35" fill="#3d4fb2"/>
<circle cx="392.84" cy="75.61" r="1.35" fill="#3d4fb2"/>
<circle cx="362.59" cy="54.04" r="1.35" fill="#3fc0c2"/>
<circle cx="392.90" cy="34.65" r="1.35" fill="#40ad5a"/>
<circle cx="382.05" cy="65.39" r="1.35" fill="#9a5bbb"/>
<circle cx="433.65" cy="71.91" r="1.35" fill="#3fc0c2"/>
<circle cx="396.13" cy="68.61" r="1.35" fill="#9a5bbb"/>
<circle cx="387.67" cy="52.44" r="1.35" fill="#9a5bbb"/>
<circle cx="383.50" cy="65.97" r="1.35" fill="#b79f43"/>
<circle cx="404.78" cy="45.90" r="1.35" fill="#b79f43"/>
<circle cx="377.89" cy="47.20" r="1.35" fill="#9a5bbb"/>
<circle cx="424.05" cy="68.38" r="1.35" fill="#9a5bbb"/>
<circle cx="402.39" cy="82.74" r="1.35" fill="#9a5bbb"/>
<circle cx="409.64" cy="70.60" r="1.35" fill="#9a5bbb"/>
<circle cx="385.22" cy="56.51" r="1.35" fill="#3d4fb2"/>
<circle cx="409.33" cy="66.85" r="1.35" fill="#ef5b4b"/>
<circle cx="388.94" cy="55.88" r="1.35" fill="#40ad5a"/>
<circle cx="344.88" cy="71.53" r="1.35" fill="#3d4fb2"/>
<circle cx="364.98" cy="79.85" r="1.35" fill="#9a5bbb"/>
<circle cx="421.24" cy="59.40" r="1.35" fill="#9a5bbb"/>
<circle cx="381.78" cy="65.18" r="1.35" fill="#b79f43"/>
<circle cx="367.49" cy="78.98" r="1.35" fill="#3fc0c2"/>
<circle cx="383.33" cy="51.09" r="1.35" fill="#b79f43"/>
<circle cx="391.28" cy="45.09" r="1.35" fill="#40ad5a"/>
<circle cx="370.23" cy="69.13" r="1.35" fill="#40ad5a"/>
<circle cx="391.81" cy="53.32" r="1.35" fill="#40ad5a"/>
<circle cx="385.56" cy="80.16" r="1.35" fill="#3fc0c2"/>
<circle cx="399.34" cy="70.39" r="1.35" fill="#40ad5a"/>
<circle cx="376.69" cy="79.06" r="1.35" fill="#b79f43"/>
<circle cx="365.33" cy="58.15" r="1.35" fill="#b79f43"/>
<circle cx="405.93" cy="62.07" r="1.35" fill="#ef5b4b"/>
<circle cx="412.76" cy="39.76" r="1.35" fill="#9a5bbb"/>
<circle cx="377.88" cy="55.57" r="1.35" fill="#ef5b4b"/>
<circle cx="373.62" cy="41.71" r="1.35" fill="#40ad5a"/>
<circle cx="412.57" cy="62.65" r="1.35" fill="#3fc0c2"/>
<circle cx="394.83" cy="69.07" r="1.35" fill="#b79f43"/>
<circle cx="367.59" cy="70.95" r="1.35" fill="#40ad5a"/>
<circle cx="372.93" cy="69.05" r="1.35" fill="#40ad5a"/>
<circle cx="378.79" cy="54.39" r="1.35" fill="#9a5bbb"/>
<circle cx="424.14" cy="52.83" r="1.35" fill="#40ad5a"/>
<circle cx="407.23" cy="56.94" r="1.35" fill="#3fc0c2"/>
<circle cx="367.97" cy="52.93" r="1.35" fill="#40ad5a"/>
<circle cx="421.70" cy="51.09" r="1.35" fill="#40ad5a"/>
<circle cx="378.61" cy="55.43" r="1.35" fill="#9a5bbb"/>
<circle cx="386.63" cy="36.79" r="1.35" fill="#ef5b4b"/>
<circle cx="363.45" cy="57.96" r="1.35" fill="#3fc0c2"/>
<circle cx="397.20" cy="86.67" r="1.35" fill="#3d4fb2"/>
<circle cx="404.96" cy="80.12" r="1.35" fill="#ef5b4b"/>
<circle cx="377.23" cy="43.51" r="1.35" fill="#ef5b4b"/>
<circle cx="412.54" cy="49.30" r="1.35" fill="#3fc0c2"/>
<circle cx="418.92" cy="44.38" r="1.35" fill="#ef5b4b"/>
<circle cx="391.16" cy="60.31" r="1.35" fill="#3d4fb2"/>
<circle cx="400.97" cy="76.78" r="1.35" fill="#b79f43"/>
<circle cx="403.98" cy="35.27" r="1.35" fill="#b79f43"/>
<circle cx="397.60" cy="60.47" r="1.35" fill="#b79f43"/>
<circle cx="406.08" cy="47.04" r="1.35" fill="#b79f43"/>
<circle cx="384.60" cy="78.10" r="1.35" fill="#ef5b4b"/>
<circle cx="401.14" cy="67.79" r="1.35" fill="#b79f43"/>
<circle cx="406.85" cy="61.84" r="1.35" fill="#9a5bbb"/>
<circle cx="386.09" cy="52.11" r="1.35" fill="#ef5b4b"/>
<circle cx="406.01" cy="54.33" r="1.35" fill="#9a5bbb"/>
<circle cx="410.54" cy="44.90" r="1.35" fill="#3fc0c2"/>
<circle cx="429.13" cy="68.28" r="1.35" fill="#3fc0c2"/>
<circle cx="411.64" cy="67.16" r="1.35" fill="#3d4fb2"/>
<circle cx="393.67" cy="38.77" r="1.35" fill="#3fc0c2"/>
<circle cx="399.77" cy="68.76" r="1.35" fill="#9a5bbb"/>
<circle cx="371.04" cy="42.53" r="1.35" fill="#ef5b4b"/>
<circle cx="397.09" cy="54.38" r="1.35" fill="#ef5b4b"/>
<circle cx="357.70" cy="66.92" r="1.35" fill="#ef5b4b"/>
<circle cx="366.86" cy="48.30" r="1.35" fill="#3fc0c2"/>
<circle cx="433.62" cy="65.70" r="1.35" fill="#ef5b4b"/>
<circle cx="405.62" cy="47.58" r="1.35" fill="#9a5bbb"/>
<circle cx="386.26" cy="55.58" r="1.35" fill="#b79f43"/>
<circle cx="353.56" cy="78.24" r="1.35" fill="#3d4fb2"/>
<circle cx="404.84" cy="70.67" r="1.35" fill="#3fc0c2"/>
<circle cx="422.14" cy="45.43" r="1.35" fill="#40ad5a"/>
<circle cx="380.21" cy="61.88" r="1.35" fill="#9a5bbb"/>
<circle cx="374.09" cy="54.87" r="1.35" fill="#3d4fb2"/>
<circle cx="363.48" cy="64.15" r="1.35" fill="#3fc0c2"/>
<ellipse cx="379.30" cy="74.10" rx="55.60" ry="33.90" transform="rotate(-14.2 379.30 74.10)" fill="none" stroke="#2a3aa2" stroke-width="1.15"/>
<ellipse cx="393.70" cy="65.20" rx="48.50" ry="31.80" transform="rotate(14.9 393.70 65.20)" fill="none" stroke="#1db8bf" stroke-width="1.15"/>
<ellipse cx="392.60" cy="58.90" rx="49.00" ry="28.00" transform="rotate(10.3 392.60 58.90)" fill="none" stroke="#e8211f" stroke-width="1.15"/>
<ellipse cx="395.40" cy="59.30" rx="41.10" ry="34.40" transform="rotate(13.9 395.40 59.30)" fill="none" stroke="#1fa043" stroke-width="1.15"/>
<ellipse cx="391.00" cy="59.80" rx="31.00" ry="33.50" transform="rotate(10.0 391.00 59.80)" fill="none" stroke="#b39a2c" stroke-width="1.15"/>
<ellipse cx="391.00" cy="59.10" rx="46.20" ry="33.70" transform="rotate(-17.2 391.00 59.10)" fill="none" stroke="#8a3fb5" stroke-width="1.15"/>
<line x1="319.50" y1="19.50" x2="319.50" y2="113.30" stroke="#7a7a7a" stroke-width="1"/>
<line x1="319.50" y1="19.50" x2="447.00" y2="19.50" stroke="#3a3a3a" stroke-width="1"/>
<line x1="447.00" y1="19.50" x2="447.00" y2="113.30" stroke="#3a3a3a" stroke-width="1"/>
<line x1="319.00" y1="113.30" x2="447.50" y2="113.30" stroke="#4a4a4a" stroke-width="1.2"/>
<line x1="318.30" y1="36.30" x2="319.50" y2="36.30" stroke="#555" stroke-width="0.8"/>
<text x="317.10" y="38.90" font-size="7.3" text-anchor="end" fill="#1e1e1e" color="#1e1e1e">0.2</text>
<line x1="318.30" y1="63.00" x2="319.50" y2="63.00" stroke="#555" stroke-width="0.8"/>
<text x="317.10" y="65.60" font-size="7.3" text-anchor="end" fill="#1e1e1e" color="#1e1e1e">0.0</text>
<line x1="318.30" y1="89.70" x2="319.50" y2="89.70" stroke="#555" stroke-width="0.8"/>
<text x="317.10" y="92.30" font-size="7.3" text-anchor="end" fill="#1e1e1e" color="#1e1e1e">−0.2</text>
<line x1="330.70" y1="113.30" x2="330.70" y2="114.50" stroke="#555" stroke-width="0.8"/>
<text x="330.70" y="120.50" font-size="7.3" text-anchor="middle" fill="#1e1e1e" color="#1e1e1e">−0.4</text>
<line x1="361.30" y1="113.30" x2="361.30" y2="114.50" stroke="#555" stroke-width="0.8"/>
<text x="361.30" y="120.50" font-size="7.3" text-anchor="middle" fill="#1e1e1e" color="#1e1e1e">−0.2</text>
<line x1="391.90" y1="113.30" x2="391.90" y2="114.50" stroke="#555" stroke-width="0.8"/>
<text x="391.90" y="120.50" font-size="7.3" text-anchor="middle" fill="#1e1e1e" color="#1e1e1e">0.0</text>
<line x1="422.50" y1="113.30" x2="422.50" y2="114.50" stroke="#555" stroke-width="0.8"/>
<text x="422.50" y="120.50" font-size="7.3" text-anchor="middle" fill="#1e1e1e" color="#1e1e1e">0.2</text>
<text x="354.30" y="14.60" font-size="12.4" fill="#231f20" color="#231f20">Unweighted</text>
<text x="385.50" y="131.20" font-size="8.4" text-anchor="middle" fill="#1e1e1e" color="#1e1e1e">Axis1 (10.82%)</text>
<text x="301.30" y="61.90" font-size="8.45" text-anchor="middle" fill="#1e1e1e" color="#1e1e1e" transform="rotate(-90 301.30 61.90)">Axis2 (8.13%)</text>
<circle cx="533.50" cy="54.63" r="1.35" fill="#3fc0c2"/>
<circle cx="525.78" cy="71.64" r="1.35" fill="#ef5b4b"/>
<circle cx="540.63" cy="54.80" r="1.35" fill="#3fc0c2"/>
<circle cx="517.42" cy="94.01" r="1.35" fill="#40ad5a"/>
<circle cx="523.51" cy="68.68" r="1.35" fill="#3fc0c2"/>
<circle cx="540.21" cy="85.95" r="1.35" fill="#b79f43"/>
<circle cx="566.12" cy="54.32" r="1.35" fill="#3d4fb2"/>
<circle cx="527.29" cy="88.85" r="1.35" fill="#9a5bbb"/>
<circle cx="532.98" cy="99.39" r="1.35" fill="#40ad5a"/>
<circle cx="545.49" cy="61.43" r="1.35" fill="#3fc0c2"/>
<circle cx="510.41" cy="66.65" r="1.35" fill="#b79f43"/>
<circle cx="519.88" cy="80.54" r="1.35" fill="#9a5bbb"/>
<circle cx="547.95" cy="70.18" r="1.35" fill="#3fc0c2"/>
<circle cx="516.23" cy="69.10" r="1.35" fill="#40ad5a"/>
<circle cx="535.96" cy="48.49" r="1.35" fill="#3d4fb2"/>
<circle cx="516.69" cy="92.60" r="1.35" fill="#ef5b4b"/>
<circle cx="529.05" cy="67.26" r="1.35" fill="#3fc0c2"/>
<circle cx="532.13" cy="82.27" r="1.35" fill="#40ad5a"/>
<circle cx="518.75" cy="92.81" r="1.35" fill="#b79f43"/>
<circle cx="567.52" cy="66.75" r="1.35" fill="#3d4fb2"/>
<circle cx="505.35" cy="101.84" r="1.35" fill="#b79f43"/>
<circle cx="532.01" cy="82.83" r="1.35" fill="#ef5b4b"/>
<circle cx="538.43" cy="83.03" r="1.35" fill="#9a5bbb"/>
<circle cx="545.66" cy="70.14" r="1.35" fill="#3d4fb2"/>
<circle cx="521.05" cy="90.57" r="1.35" fill="#40ad5a"/>
<circle cx="548.75" cy="73.33" r="1.35" fill="#3fc0c2"/>
<circle cx="511.65" cy="82.20" r="1.35" fill="#b79f43"/>
<circle cx="529.82" cy="102.08" r="1.35" fill="#3fc0c2"/>
<circle cx="529.28" cy="63.16" r="1.35" fill="#40ad5a"/>
<circle cx="540.55" cy="87.51" r="1.35" fill="#9a5bbb"/>
<circle cx="527.69" cy="60.35" r="1.35" fill="#ef5b4b"/>
<circle cx="547.89" cy="70.51" r="1.35" fill="#3fc0c2"/>
<circle cx="526.33" cy="66.29" r="1.35" fill="#3fc0c2"/>
<circle cx="532.39" cy="99.33" r="1.35" fill="#9a5bbb"/>
<circle cx="515.77" cy="87.99" r="1.35" fill="#ef5b4b"/>
<circle cx="554.12" cy="54.98" r="1.35" fill="#3d4fb2"/>
<circle cx="524.98" cy="72.75" r="1.35" fill="#3d4fb2"/>
<circle cx="566.32" cy="64.17" r="1.35" fill="#3d4fb2"/>
<circle cx="534.41" cy="71.65" r="1.35" fill="#3fc0c2"/>
<circle cx="516.57" cy="68.13" r="1.35" fill="#b79f43"/>
<circle cx="538.45" cy="48.14" r="1.35" fill="#3fc0c2"/>
<circle cx="547.98" cy="91.24" r="1.35" fill="#40ad5a"/>
<circle cx="530.00" cy="84.34" r="1.35" fill="#9a5bbb"/>
<circle cx="544.47" cy="79.61" r="1.35" fill="#9a5bbb"/>
<circle cx="526.95" cy="77.37" r="1.35" fill="#40ad5a"/>
<circle cx="535.79" cy="62.43" r="1.35" fill="#3fc0c2"/>
<circle cx="545.55" cy="69.81" r="1.35" fill="#3fc0c2"/>
<circle cx="518.50" cy="69.11" r="1.35" fill="#40ad5a"/>
<circle cx="527.88" cy="85.19" r="1.35" fill="#40ad5a"/>
<circle cx="526.54" cy="95.27" r="1.35" fill="#ef5b4b"/>
<circle cx="522.76" cy="87.07" r="1.35" fill="#ef5b4b"/>
<circle cx="524.74" cy="103.26" r="1.35" fill="#9a5bbb"/>
<circle cx="523.21" cy="81.14" r="1.35" fill="#9a5bbb"/>
<circle cx="511.50" cy="59.15" r="1.35" fill="#ef5b4b"/>
<circle cx="515.86" cy="49.61" r="1.35" fill="#b79f43"/>
<circle cx="525.34" cy="64.37" r="1.35" fill="#3fc0c2"/>
<circle cx="555.11" cy="88.37" r="1.35" fill="#9a5bbb"/>
<circle cx="533.75" cy="65.49" r="1.35" fill="#3fc0c2"/>
<circle cx="522.93" cy="74.73" r="1.35" fill="#3fc0c2"/>
<circle cx="524.09" cy="81.16" r="1.35" fill="#ef5b4b"/>
<circle cx="523.12" cy="100.89" r="1.35" fill="#40ad5a"/>
<circle cx="525.88" cy="88.44" r="1.35" fill="#9a5bbb"/>
<circle cx="542.57" cy="71.81" r="1.35" fill="#ef5b4b"/>
<circle cx="556.09" cy="88.63" r="1.35" fill="#b79f43"/>
<circle cx="521.90" cy="98.79" r="1.35" fill="#9a5bbb"/>
<circle cx="521.03" cy="78.58" r="1.35" fill="#b79f43"/>
<circle cx="534.35" cy="76.51" r="1.35" fill="#b79f43"/>
<circle cx="519.57" cy="60.70" r="1.35" fill="#ef5b4b"/>
<circle cx="516.40" cy="90.44" r="1.35" fill="#ef5b4b"/>
<circle cx="537.06" cy="81.61" r="1.35" fill="#40ad5a"/>
<circle cx="514.65" cy="82.23" r="1.35" fill="#9a5bbb"/>
<circle cx="520.09" cy="81.04" r="1.35" fill="#b79f43"/>
<circle cx="534.53" cy="93.44" r="1.35" fill="#40ad5a"/>
<circle cx="541.25" cy="81.20" r="1.35" fill="#ef5b4b"/>
<circle cx="531.24" cy="81.82" r="1.35" fill="#9a5bbb"/>
<circle cx="525.54" cy="85.54" r="1.35" fill="#9a5bbb"/>
<circle cx="523.12" cy="80.70" r="1.35" fill="#ef5b4b"/>
<circle cx="547.32" cy="77.49" r="1.35" fill="#b79f43"/>
<circle cx="566.15" cy="63.52" r="1.35" fill="#3d4fb2"/>
<circle cx="523.98" cy="58.03" r="1.35" fill="#3fc0c2"/>
<circle cx="562.28" cy="66.17" r="1.35" fill="#3d4fb2"/>
<circle cx="523.24" cy="83.62" r="1.35" fill="#ef5b4b"/>
<circle cx="524.41" cy="82.71" r="1.35" fill="#9a5bbb"/>
<circle cx="528.72" cy="81.74" r="1.35" fill="#40ad5a"/>
<circle cx="542.48" cy="94.81" r="1.35" fill="#40ad5a"/>
<circle cx="530.92" cy="93.43" r="1.35" fill="#40ad5a"/>
<circle cx="508.29" cy="79.98" r="1.35" fill="#3fc0c2"/>
<circle cx="543.63" cy="90.91" r="1.35" fill="#9a5bbb"/>
<circle cx="507.57" cy="56.05" r="1.35" fill="#3fc0c2"/>
<circle cx="512.23" cy="89.82" r="1.35" fill="#ef5b4b"/>
<circle cx="521.94" cy="88.89" r="1.35" fill="#9a5bbb"/>
<circle cx="523.73" cy="80.72" r="1.35" fill="#9a5bbb"/>
<circle cx="534.32" cy="93.67" r="1.35" fill="#9a5bbb"/>
<circle cx="544.04" cy="79.35" r="1.35" fill="#b79f43"/>
<circle cx="558.47" cy="66.68" r="1.35" fill="#3d4fb2"/>
<circle cx="524.93" cy="81.72" r="1.35" fill="#3fc0c2"/>
<circle cx="538.49" cy="82.79" r="1.35" fill="#ef5b4b"/>
<circle cx="529.72" cy="87.29" r="1.35" fill="#3fc0c2"/>
<circle cx="523.40" cy="62.74" r="1.35" fill="#3fc0c2"/>
<circle cx="553.69" cy="88.67" r="1.35" fill="#3d4fb2"/>
<circle cx="535.48" cy="82.67" r="1.35" fill="#3fc0c2"/>
<circle cx="554.47" cy="80.91" r="1.35" fill="#b79f43"/>
<circle cx="553.40" cy="83.98" r="1.35" fill="#9a5bbb"/>
<circle cx="539.07" cy="88.24" r="1.35" fill="#9a5bbb"/>
<circle cx="543.62" cy="76.07" r="1.35" fill="#40ad5a"/>
<circle cx="517.15" cy="77.85" r="1.35" fill="#ef5b4b"/>
<circle cx="559.78" cy="65.04" r="1.35" fill="#3fc0c2"/>
<circle cx="530.90" cy="86.41" r="1.35" fill="#3fc0c2"/>
<circle cx="525.44" cy="84.20" r="1.35" fill="#b79f43"/>
<circle cx="518.77" cy="72.23" r="1.35" fill="#40ad5a"/>
<circle cx="519.54" cy="81.90" r="1.35" fill="#40ad5a"/>
<circle cx="539.11" cy="85.24" r="1.35" fill="#b79f43"/>
<circle cx="534.56" cy="76.46" r="1.35" fill="#ef5b4b"/>
<circle cx="519.88" cy="79.47" r="1.35" fill="#3fc0c2"/>
<circle cx="517.13" cy="85.15" r="1.35" fill="#ef5b4b"/>
<circle cx="512.35" cy="70.58" r="1.35" fill="#b79f43"/>
<circle cx="543.54" cy="69.98" r="1.35" fill="#40ad5a"/>
<circle cx="514.79" cy="84.72" r="1.35" fill="#40ad5a"/>
<circle cx="527.63" cy="56.70" r="1.35" fill="#b79f43"/>
<circle cx="508.43" cy="77.81" r="1.35" fill="#ef5b4b"/>
<circle cx="543.97" cy="71.24" r="1.35" fill="#3fc0c2"/>
<circle cx="544.51" cy="95.19" r="1.35" fill="#9a5bbb"/>
<circle cx="531.48" cy="101.35" r="1.35" fill="#ef5b4b"/>
<circle cx="546.06" cy="84.56" r="1.35" fill="#3fc0c2"/>
<circle cx="553.21" cy="82.41" r="1.35" fill="#9a5bbb"/>
<circle cx="533.28" cy="65.79" r="1.35" fill="#b79f43"/>
<circle cx="512.47" cy="80.00" r="1.35" fill="#9a5bbb"/>
<circle cx="522.60" cy="76.29" r="1.35" fill="#ef5b4b"/>
<circle cx="518.92" cy="83.88" r="1.35" fill="#b79f43"/>
<circle cx="516.40" cy="100.18" r="1.35" fill="#b79f43"/>
<circle cx="523.38" cy="69.54" r="1.35" fill="#3fc0c2"/>
<circle cx="542.87" cy="75.91" r="1.35" fill="#9a5bbb"/>
<circle cx="524.63" cy="75.77" r="1.35" fill="#3fc0c2"/>
<circle cx="506.40" cy="77.70" r="1.35" fill="#ef5b4b"/>
<circle cx="517.43" cy="94.44" r="1.35" fill="#b79f43"/>
<circle cx="534.18" cy="93.17" r="1.35" fill="#9a5bbb"/>
<circle cx="537.34" cy="87.20" r="1.35" fill="#9a5bbb"/>
<circle cx="528.33" cy="74.64" r="1.35" fill="#9a5bbb"/>
<circle cx="521.68" cy="70.41" r="1.35" fill="#40ad5a"/>
<circle cx="530.09" cy="74.52" r="1.35" fill="#40ad5a"/>
<circle cx="522.54" cy="81.14" r="1.35" fill="#40ad5a"/>
<circle cx="527.62" cy="76.31" r="1.35" fill="#ef5b4b"/>
<circle cx="541.04" cy="87.63" r="1.35" fill="#b79f43"/>
<circle cx="513.62" cy="82.31" r="1.35" fill="#ef5b4b"/>
<circle cx="532.27" cy="80.99" r="1.35" fill="#9a5bbb"/>
<circle cx="551.33" cy="89.83" r="1.35" fill="#3d4fb2"/>
<circle cx="539.99" cy="71.88" r="1.35" fill="#3d4fb2"/>
<circle cx="527.34" cy="91.55" r="1.35" fill="#b79f43"/>
<circle cx="554.74" cy="74.06" r="1.35" fill="#3fc0c2"/>
<circle cx="520.58" cy="66.52" r="1.35" fill="#b79f43"/>
<circle cx="518.11" cy="67.14" r="1.35" fill="#40ad5a"/>
<circle cx="520.98" cy="63.62" r="1.35" fill="#ef5b4b"/>
<circle cx="544.33" cy="94.88" r="1.35" fill="#9a5bbb"/>
<circle cx="585.29" cy="72.82" r="1.35" fill="#3d4fb2"/>
<circle cx="539.22" cy="59.69" r="1.35" fill="#3fc0c2"/>
<circle cx="524.98" cy="78.43" r="1.35" fill="#ef5b4b"/>
<circle cx="541.17" cy="78.99" r="1.35" fill="#ef5b4b"/>
<circle cx="546.06" cy="80.82" r="1.35" fill="#40ad5a"/>
<circle cx="534.00" cy="68.35" r="1.35" fill="#40ad5a"/>
<circle cx="560.71" cy="76.63" r="1.35" fill="#40ad5a"/>
<circle cx="554.19" cy="58.99" r="1.35" fill="#3d4fb2"/>
<circle cx="531.53" cy="96.10" r="1.35" fill="#9a5bbb"/>
<circle cx="550.88" cy="92.06" r="1.35" fill="#9a5bbb"/>
<circle cx="544.70" cy="96.56" r="1.35" fill="#b79f43"/>
<circle cx="533.88" cy="65.79" r="1.35" fill="#b79f43"/>
<circle cx="559.21" cy="86.51" r="1.35" fill="#b79f43"/>
<circle cx="535.82" cy="61.30" r="1.35" fill="#b79f43"/>
<circle cx="520.04" cy="78.04" r="1.35" fill="#ef5b4b"/>
<circle cx="521.13" cy="82.09" r="1.35" fill="#b79f43"/>
<circle cx="533.23" cy="79.49" r="1.35" fill="#3fc0c2"/>
<circle cx="503.92" cy="78.59" r="1.35" fill="#ef5b4b"/>
<circle cx="545.56" cy="83.08" r="1.35" fill="#9a5bbb"/>
<circle cx="537.98" cy="80.92" r="1.35" fill="#40ad5a"/>
<circle cx="524.65" cy="71.89" r="1.35" fill="#40ad5a"/>
<circle cx="527.67" cy="101.55" r="1.35" fill="#ef5b4b"/>
<circle cx="537.95" cy="62.05" r="1.35" fill="#b79f43"/>
<circle cx="572.10" cy="82.00" r="1.35" fill="#3d4fb2"/>
<circle cx="533.93" cy="90.39" r="1.35" fill="#ef5b4b"/>
<circle cx="533.00" cy="83.68" r="1.35" fill="#b79f43"/>
<circle cx="516.48" cy="87.60" r="1.35" fill="#ef5b4b"/>
<circle cx="529.47" cy="77.26" r="1.35" fill="#3fc0c2"/>
<circle cx="521.27" cy="62.51" r="1.35" fill="#3fc0c2"/>
<circle cx="509.49" cy="83.83" r="1.35" fill="#40ad5a"/>
<circle cx="553.33" cy="90.24" r="1.35" fill="#9a5bbb"/>
<circle cx="548.00" cy="77.23" r="1.35" fill="#3d4fb2"/>
<circle cx="528.33" cy="92.32" r="1.35" fill="#b79f43"/>
<circle cx="564.35" cy="62.94" r="1.35" fill="#3fc0c2"/>
<circle cx="543.24" cy="80.04" r="1.35" fill="#40ad5a"/>
<circle cx="509.21" cy="70.67" r="1.35" fill="#ef5b4b"/>
<circle cx="516.36" cy="78.74" r="1.35" fill="#40ad5a"/>
<circle cx="563.71" cy="90.20" r="1.35" fill="#3d4fb2"/>
<circle cx="546.07" cy="82.53" r="1.35" fill="#3fc0c2"/>
<circle cx="516.63" cy="52.10" r="1.35" fill="#3fc0c2"/>
<circle cx="521.58" cy="75.72" r="1.35" fill="#ef5b4b"/>
<circle cx="545.77" cy="79.97" r="1.35" fill="#b79f43"/>
<circle cx="523.67" cy="85.10" r="1.35" fill="#b79f43"/>
<circle cx="537.01" cy="83.68" r="1.35" fill="#b79f43"/>
<circle cx="527.97" cy="81.52" r="1.35" fill="#ef5b4b"/>
<circle cx="536.30" cy="82.04" r="1.35" fill="#9a5bbb"/>
<circle cx="536.05" cy="81.29" r="1.35" fill="#ef5b4b"/>
<circle cx="514.76" cy="103.27" r="1.35" fill="#ef5b4b"/>
<circle cx="528.61" cy="78.07" r="1.35" fill="#40ad5a"/>
<circle cx="527.94" cy="86.71" r="1.35" fill="#b79f43"/>
<circle cx="502.27" cy="85.35" r="1.35" fill="#9a5bbb"/>
<circle cx="544.70" cy="83.38" r="1.35" fill="#b79f43"/>
<circle cx="534.66" cy="61.03" r="1.35" fill="#3fc0c2"/>
<circle cx="542.91" cy="74.25" r="1.35" fill="#3fc0c2"/>
<circle cx="516.90" cy="100.71" r="1.35" fill="#ef5b4b"/>
<circle cx="524.93" cy="77.77" r="1.35" fill="#3fc0c2"/>
<circle cx="524.11" cy="66.61" r="1.35" fill="#40ad5a"/>
<circle cx="528.80" cy="89.10" r="1.35" fill="#40ad5a"/>
<circle cx="587.85" cy="78.44" r="1.35" fill="#3d4fb2"/>
<circle cx="534.17" cy="89.92" r="1.35" fill="#9a5bbb"/>
<ellipse cx="550.80" cy="67.70" rx="53.90" ry="38.30" transform="rotate(-14.2 550.80 67.70)" fill="none" stroke="#2a3aa2" stroke-width="1.15"/>
<ellipse cx="532.00" cy="67.10" rx="32.80" ry="39.20" transform="rotate(-10.8 532.00 67.10)" fill="none" stroke="#1db8bf" stroke-width="1.15"/>
<ellipse cx="525.90" cy="75.60" rx="39.60" ry="21.90" transform="rotate(20.6 525.90 75.60)" fill="none" stroke="#e8211f" stroke-width="1.15"/>
<ellipse cx="529.90" cy="77.80" rx="28.10" ry="31.10" transform="rotate(26.9 529.90 77.80)" fill="none" stroke="#b39a2c" stroke-width="1.15"/>
<ellipse cx="529.50" cy="77.70" rx="34.70" ry="24.00" transform="rotate(13.4 529.50 77.70)" fill="none" stroke="#1fa043" stroke-width="1.15"/>
<ellipse cx="532.30" cy="80.40" rx="39.20" ry="21.90" transform="rotate(2.2 532.30 80.40)" fill="none" stroke="#8a3fb5" stroke-width="1.15"/>
<line x1="484.00" y1="18.70" x2="484.00" y2="110.90" stroke="#7a7a7a" stroke-width="1"/>
<line x1="484.00" y1="18.70" x2="609.80" y2="18.70" stroke="#3a3a3a" stroke-width="1"/>
<line x1="609.80" y1="18.70" x2="609.80" y2="110.90" stroke="#3a3a3a" stroke-width="1"/>
<line x1="483.50" y1="110.90" x2="610.30" y2="110.90" stroke="#4a4a4a" stroke-width="1.2"/>
<line x1="482.80" y1="22.26" x2="484.00" y2="22.26" stroke="#555" stroke-width="0.8"/>
<text x="481.60" y="24.86" font-size="7.3" text-anchor="end" fill="#1e1e1e" color="#1e1e1e">0.3</text>
<line x1="482.80" y1="39.64" x2="484.00" y2="39.64" stroke="#555" stroke-width="0.8"/>
<text x="481.60" y="42.24" font-size="7.3" text-anchor="end" fill="#1e1e1e" color="#1e1e1e">0.2</text>
<line x1="482.80" y1="57.02" x2="484.00" y2="57.02" stroke="#555" stroke-width="0.8"/>
<text x="481.60" y="59.62" font-size="7.3" text-anchor="end" fill="#1e1e1e" color="#1e1e1e">0.1</text>
<line x1="482.80" y1="74.40" x2="484.00" y2="74.40" stroke="#555" stroke-width="0.8"/>
<text x="481.60" y="77.00" font-size="7.3" text-anchor="end" fill="#1e1e1e" color="#1e1e1e">0.0</text>
<line x1="482.80" y1="91.78" x2="484.00" y2="91.78" stroke="#555" stroke-width="0.8"/>
<text x="481.60" y="94.38" font-size="7.3" text-anchor="end" fill="#1e1e1e" color="#1e1e1e">−0.1</text>
<line x1="482.80" y1="109.16" x2="484.00" y2="109.16" stroke="#555" stroke-width="0.8"/>
<text x="481.60" y="111.76" font-size="7.3" text-anchor="end" fill="#1e1e1e" color="#1e1e1e">−0.2</text>
<line x1="492.60" y1="110.90" x2="492.60" y2="112.10" stroke="#555" stroke-width="0.8"/>
<text x="492.60" y="118.10" font-size="7.3" text-anchor="middle" fill="#1e1e1e" color="#1e1e1e">−0.25</text>
<line x1="533.80" y1="110.90" x2="533.80" y2="112.10" stroke="#555" stroke-width="0.8"/>
<text x="533.80" y="118.10" font-size="7.3" text-anchor="middle" fill="#1e1e1e" color="#1e1e1e">0.00</text>
<line x1="575.00" y1="110.90" x2="575.00" y2="112.10" stroke="#555" stroke-width="0.8"/>
<text x="575.00" y="118.10" font-size="7.3" text-anchor="middle" fill="#1e1e1e" color="#1e1e1e">0.25</text>
<text x="520.60" y="13.00" font-size="12.4" fill="#231f20" color="#231f20">Weighted</text>
<text x="547.80" y="131.20" font-size="8.4" text-anchor="middle" fill="#1e1e1e" color="#1e1e1e">Axis1 (21.04%)</text>
<text x="466.20" y="58.30" font-size="8.45" text-anchor="middle" fill="#1e1e1e" color="#1e1e1e" transform="rotate(-90 466.20 58.30)">Axis2 (15.67%)</text>
<text x="615.80" y="34.70" font-size="7.8" fill="#2b2b2b" color="#2b2b2b">Time point</text>
<circle cx="621.30" cy="44.00" r="4.3" fill="#ef5b4b"/>
<text x="629.60" y="46.90" font-size="8" fill="#231f20" color="#231f20">Week 12</text>
<circle cx="621.30" cy="55.28" r="4.3" fill="#b79f43"/>
<text x="629.60" y="58.18" font-size="8" fill="#231f20" color="#231f20">Week 20</text>
<circle cx="621.30" cy="66.56" r="4.3" fill="#40ad5a"/>
<text x="629.60" y="69.46" font-size="8" fill="#231f20" color="#231f20">Week 30</text>
<circle cx="621.30" cy="77.84" r="4.3" fill="#3fc0c2"/>
<text x="629.60" y="80.74" font-size="8" fill="#231f20" color="#231f20">Week 36</text>
<circle cx="621.30" cy="89.12" r="4.3" fill="#3d4fb2"/>
<text x="629.60" y="92.02" font-size="8" fill="#231f20" color="#231f20">Birth</text>
<circle cx="621.30" cy="100.40" r="4.3" fill="#9a5bbb"/>
<text x="629.60" y="103.30" font-size="8" fill="#231f20" color="#231f20">Postpartum</text>
<text x="295.40" y="167.80" font-size="10.7" fill="#231f20" color="#231f20">Postpartum</text>
<text x="355.80" y="167.80" font-size="10.7" fill="#231f20" color="#231f20">Pregnancy</text>
<rect x="329.45" y="177.65" width="44.20" height="9.80" fill="#2e3470" stroke="#1b1f45" stroke-width="0.6"/>
<rect x="319.25" y="190.25" width="9.90" height="9.80" fill="#7e2126" stroke="#3e1013" stroke-width="0.6"/>
<rect x="315.90" y="175.30" width="62.00" height="28.00" fill="none" stroke="#2b2b2b" stroke-width="1.2"/>
<line x1="322.70" y1="206.30" x2="373.00" y2="206.30" stroke="#111" stroke-width="1.1"/>
<line x1="323.20" y1="205.80" x2="323.20" y2="207.90" stroke="#111" stroke-width="1.1"/>
<line x1="330.27" y1="205.80" x2="330.27" y2="207.90" stroke="#111" stroke-width="1.1"/>
<line x1="337.34" y1="205.80" x2="337.34" y2="207.90" stroke="#111" stroke-width="1.1"/>
<line x1="344.41" y1="205.80" x2="344.41" y2="207.90" stroke="#111" stroke-width="1.1"/>
<line x1="351.48" y1="205.80" x2="351.48" y2="207.90" stroke="#111" stroke-width="1.1"/>
<line x1="358.55" y1="205.80" x2="358.55" y2="207.90" stroke="#111" stroke-width="1.1"/>
<line x1="365.62" y1="205.80" x2="365.62" y2="207.90" stroke="#111" stroke-width="1.1"/>
<line x1="372.69" y1="205.80" x2="372.69" y2="207.90" stroke="#111" stroke-width="1.1"/>
<text x="330.30" y="214.30" font-size="7.4" text-anchor="middle" fill="#231f20" color="#231f20">0</text>
<text x="344.44" y="214.30" font-size="7.4" text-anchor="middle" fill="#231f20" color="#231f20">1</text>
<text x="358.58" y="214.30" font-size="7.4" text-anchor="middle" fill="#231f20" color="#231f20">2</text>
<text x="372.72" y="214.30" font-size="7.4" text-anchor="middle" fill="#231f20" color="#231f20">3</text>
<text x="348.00" y="227.60" font-size="11.9" text-anchor="middle" fill="#231f20" color="#231f20">coefficient</text>
<rect x="381.00" y="176.60" width="7.90" height="10.80" fill="#1aa9e8" stroke="none" stroke-width="1"/>
<rect x="381.00" y="189.70" width="7.90" height="10.80" fill="#1aa9e8" stroke="none" stroke-width="1"/>
<text x="391.60" y="185.80" font-size="10.8" font-style="italic" fill="#231f20" color="#231f20">Lactobacillus</text>
<text x="391.60" y="198.50" font-size="10.8" font-style="italic" fill="#231f20" color="#231f20">Howardella</text>
<text x="0" y="0" font-size="9.8" fill="#231f20" color="#231f20" transform="translate(381.80 203.30) rotate(90) scale(0.9121 1)">Phylum</text>
<text x="413.20" y="217.90" font-size="8.9" fill="#2b2b2b" color="#2b2b2b">Phylum</text>
<rect x="416.80" y="221.30" width="4.40" height="5.60" fill="#1aa9e8" stroke="none" stroke-width="1"/>
<text x="421.40" y="227.00" font-size="8.1" fill="#231f20" color="#231f20">Firmicutes</text>
<text x="515.50" y="167.80" font-size="10.7" fill="#231f20" color="#231f20">Week 12</text>
<text x="567.50" y="167.80" font-size="10.7" fill="#231f20" color="#231f20">Week</text>
<text x="601.70" y="167.80" font-size="10.7" fill="#231f20" color="#231f20">36</text>
<rect x="555.95" y="175.05" width="30.90" height="8.30" fill="#2e3470" stroke="#1b1f45" stroke-width="0.6"/>
<rect x="544.25" y="185.75" width="11.30" height="8.60" fill="#2e663b" stroke="#163320" stroke-width="0.6"/>
<rect x="542.85" y="196.45" width="12.70" height="8.80" fill="#2e663b" stroke="#163320" stroke-width="0.6"/>
<rect x="534.40" y="172.20" width="57.40" height="35.40" fill="none" stroke="#2b2b2b" stroke-width="1.3"/>
<line x1="546.50" y1="210.70" x2="582.00" y2="210.70" stroke="#111" stroke-width="1.3"/>
<line x1="547.10" y1="210.20" x2="547.10" y2="213.80" stroke="#111" stroke-width="1.3"/>
<line x1="555.68" y1="210.20" x2="555.68" y2="213.80" stroke="#111" stroke-width="1.3"/>
<line x1="564.26" y1="210.20" x2="564.26" y2="213.80" stroke="#111" stroke-width="1.3"/>
<line x1="572.84" y1="210.20" x2="572.84" y2="213.80" stroke="#111" stroke-width="1.3"/>
<line x1="581.42" y1="210.20" x2="581.42" y2="213.80" stroke="#111" stroke-width="1.3"/>
<text x="544.40" y="221.70" font-size="8.0" text-anchor="middle" fill="#231f20" color="#231f20">-1</text>
<text x="564.80" y="221.70" font-size="8.0" text-anchor="middle" fill="#231f20" color="#231f20">1</text>
<text x="583.20" y="221.70" font-size="8.0" text-anchor="middle" fill="#231f20" color="#231f20">3</text>
<text x="563.90" y="232.50" font-size="11.9" text-anchor="middle" fill="#231f20" color="#231f20">coefficient</text>
<rect x="595.30" y="174.90" width="6.10" height="9.00" fill="#1aa9e8" stroke="none" stroke-width="1"/>
<rect x="595.30" y="186.00" width="6.10" height="8.70" fill="#f7901e" stroke="none" stroke-width="1"/>
<rect x="595.30" y="197.00" width="6.10" height="8.80" fill="#6a2c8f" stroke="none" stroke-width="1"/>
<text x="605.20" y="183.00" font-size="10.7" font-style="italic" fill="#231f20" color="#231f20">Lactobacillus</text>
<text x="605.20" y="194.40" font-size="10.7" font-style="italic" fill="#231f20" color="#231f20">Lawsonella</text>
<text x="605.20" y="205.20" font-size="10.7" font-style="italic" fill="#231f20" color="#231f20">Prevotella</text>
<text x="0" y="0" font-size="9.8" fill="#231f20" color="#231f20" transform="translate(595.70 209.20) rotate(90) scale(0.9059 1)">Phylum</text>
<text x="617.80" y="220.60" font-size="8.7" fill="#2b2b2b" color="#2b2b2b">Phylum</text>
<rect x="623.70" y="224.70" width="4.20" height="5.20" fill="#f7901e" stroke="none" stroke-width="1"/>
<text x="628.20" y="230.10" font-size="8.0" fill="#231f20" color="#231f20">Actionobacteria</text>
<rect x="623.70" y="231.90" width="4.20" height="5.20" fill="#6a2c8f" stroke="none" stroke-width="1"/>
<text x="628.20" y="237.30" font-size="8.0" fill="#231f20" color="#231f20">Bacteroidota</text>
<rect x="623.70" y="239.10" width="4.20" height="5.20" fill="#1aa9e8" stroke="none" stroke-width="1"/>
<text x="628.20" y="244.50" font-size="8.0" fill="#231f20" color="#231f20">Firmicutes</text>
<text x="105.90" y="278.60" font-size="15.2" fill="#231f20" color="#231f20">Genus in gut</text>
<rect x="53.55" y="292.15" width="26.50" height="8.60" fill="#2e3470" stroke="#1b1f45" stroke-width="0.6"/>
<rect x="86.20" y="292.40" width="6.60" height="8.80" fill="#1aa9e8" stroke="none" stroke-width="1"/>
<text x="95.00" y="300.25" font-size="10.2" font-style="italic" fill="#231f20" color="#231f20">Lactobacillus</text>
<rect x="53.55" y="303.09" width="9.30" height="8.60" fill="#2e3470" stroke="#1b1f45" stroke-width="0.6"/>
<rect x="86.20" y="303.34" width="6.60" height="8.80" fill="#2db36b" stroke="none" stroke-width="1"/>
<text x="95.00" y="311.19" font-size="10.2" font-style="italic" fill="#231f20" color="#231f20">Campylobacter</text>
<rect x="53.55" y="314.03" width="8.20" height="8.60" fill="#2e3470" stroke="#1b1f45" stroke-width="0.6"/>
<rect x="86.20" y="314.28" width="6.60" height="8.80" fill="#1aa9e8" stroke="none" stroke-width="1"/>
<text x="95.00" y="322.13" font-size="10.2" font-style="italic" fill="#231f20" color="#231f20">Aerosphaera</text>
<rect x="53.55" y="324.97" width="8.10" height="8.60" fill="#2e3470" stroke="#1b1f45" stroke-width="0.6"/>
<rect x="86.20" y="325.22" width="6.60" height="8.80" fill="#1aa9e8" stroke="none" stroke-width="1"/>
<text x="95.00" y="333.07" font-size="10.2" font-style="italic" fill="#231f20" color="#231f20">Ruminococcus_gnavus_group</text>
<rect x="53.55" y="335.91" width="7.20" height="8.60" fill="#2e3470" stroke="#1b1f45" stroke-width="0.6"/>
<rect x="86.20" y="336.16" width="6.60" height="8.80" fill="#1aa9e8" stroke="none" stroke-width="1"/>
<text x="95.00" y="344.01" font-size="10.2" font-style="italic" fill="#231f20" color="#231f20">Streptococcus</text>
<rect x="53.55" y="346.85" width="6.20" height="8.60" fill="#2e3470" stroke="#1b1f45" stroke-width="0.6"/>
<rect x="86.20" y="347.10" width="6.60" height="8.80" fill="#1aa9e8" stroke="none" stroke-width="1"/>
<text x="95.00" y="354.95" font-size="10.2" font-style="italic" fill="#231f20" color="#231f20">Erysipelatoclostridium</text>
<rect x="53.55" y="357.79" width="4.50" height="8.60" fill="#2e3470" stroke="#1b1f45" stroke-width="0.6"/>
<rect x="86.20" y="358.04" width="6.60" height="8.80" fill="#1aa9e8" stroke="none" stroke-width="1"/>
<text x="95.00" y="365.89" font-size="10.2" font-style="italic" fill="#231f20" color="#231f20">Solobacterium</text>
<rect x="53.55" y="368.73" width="4.20" height="8.60" fill="#2e3470" stroke="#1b1f45" stroke-width="0.6"/>
<rect x="86.20" y="368.98" width="6.60" height="8.80" fill="#1aa9e8" stroke="none" stroke-width="1"/>
<text x="95.00" y="376.83" font-size="10.2" font-style="italic" fill="#231f20" color="#231f20">Anaerococcus</text>
<rect x="50.45" y="379.67" width="3.00" height="8.60" fill="#7e2126" stroke="#3e1013" stroke-width="0.6"/>
<rect x="86.20" y="379.92" width="6.60" height="8.80" fill="#1aa9e8" stroke="none" stroke-width="1"/>
<text x="95.00" y="387.77" font-size="10.2" font-style="italic" fill="#231f20" color="#231f20">Anaerovoracaceae_Family_XIII_AD3011_group</text>
<rect x="49.15" y="390.61" width="4.30" height="8.60" fill="#7e2126" stroke="#3e1013" stroke-width="0.6"/>
<rect x="86.20" y="390.86" width="6.60" height="8.80" fill="#231f20" stroke="none" stroke-width="1"/>
<text x="95.00" y="398.71" font-size="10.2" fill="#231f20" color="#231f20">Domain: Bacteria</text>
<rect x="47.95" y="401.55" width="5.50" height="8.60" fill="#7e2126" stroke="#3e1013" stroke-width="0.6"/>
<rect x="86.20" y="401.80" width="6.60" height="8.80" fill="#c8203a" stroke="none" stroke-width="1"/>
<text x="95.00" y="409.65" font-size="10.2" font-style="italic" fill="#231f20" color="#231f20">Bradyrhizobium</text>
<rect x="48.15" y="412.49" width="5.30" height="8.60" fill="#7e2126" stroke="#3e1013" stroke-width="0.6"/>
<rect x="86.20" y="412.74" width="6.60" height="8.80" fill="#f7901e" stroke="none" stroke-width="1"/>
<text x="95.00" y="420.59" font-size="10.2" font-style="italic" fill="#231f20" color="#231f20">Lawsonella</text>
<rect x="47.35" y="423.43" width="6.10" height="8.60" fill="#7e2126" stroke="#3e1013" stroke-width="0.6"/>
<rect x="86.20" y="423.68" width="6.60" height="8.80" fill="#c8203a" stroke="none" stroke-width="1"/>
<text x="95.00" y="431.53" font-size="10.2" font-style="italic" fill="#231f20" color="#231f20">Sphingomonas</text>
<rect x="46.65" y="434.37" width="6.80" height="8.60" fill="#7e2126" stroke="#3e1013" stroke-width="0.6"/>
<rect x="86.20" y="434.62" width="6.60" height="8.80" fill="#1aa9e8" stroke="none" stroke-width="1"/>
<text x="95.00" y="442.47" font-size="10.2" font-style="italic" fill="#231f20" color="#231f20">Mogibacterium</text>
<rect x="46.35" y="445.31" width="7.10" height="8.60" fill="#7e2126" stroke="#3e1013" stroke-width="0.6"/>
<rect x="86.20" y="445.56" width="6.60" height="8.80" fill="#1aa9e8" stroke="none" stroke-width="1"/>
<text x="95.00" y="453.41" font-size="10.2" font-style="italic" fill="#231f20" color="#231f20">Fastidiosipila</text>
<rect x="46.45" y="456.25" width="7.00" height="8.60" fill="#7e2126" stroke="#3e1013" stroke-width="0.6"/>
<rect x="86.20" y="456.50" width="6.60" height="8.80" fill="#6a2c8f" stroke="none" stroke-width="1"/>
<text x="95.00" y="464.35" font-size="10.2" font-style="italic" fill="#231f20" color="#231f20">Muribaculaceae</text>
<rect x="46.35" y="467.19" width="7.10" height="8.60" fill="#7e2126" stroke="#3e1013" stroke-width="0.6"/>
<rect x="86.20" y="467.44" width="6.60" height="8.80" fill="#f4e52a" stroke="none" stroke-width="1"/>
<text x="95.00" y="475.29" font-size="10.2" font-style="italic" fill="#231f20" color="#231f20">Acidibacter</text>
<rect x="46.35" y="478.13" width="7.10" height="8.60" fill="#7e2126" stroke="#3e1013" stroke-width="0.6"/>
<rect x="86.20" y="478.38" width="6.60" height="8.80" fill="#1aa9e8" stroke="none" stroke-width="1"/>
<text x="95.00" y="486.23" font-size="10.2" font-style="italic" fill="#231f20" color="#231f20">Peptococcus</text>
<rect x="43.25" y="489.07" width="10.20" height="8.60" fill="#7e2126" stroke="#3e1013" stroke-width="0.6"/>
<rect x="86.20" y="489.32" width="6.60" height="8.80" fill="#f7901e" stroke="none" stroke-width="1"/>
<text x="95.00" y="497.17" font-size="10.2" font-style="italic" fill="#231f20" color="#231f20">Gardnerella</text>
<rect x="41.15" y="500.01" width="12.30" height="8.60" fill="#7e2126" stroke="#3e1013" stroke-width="0.6"/>
<rect x="86.20" y="500.26" width="6.60" height="8.80" fill="#1aa9e8" stroke="none" stroke-width="1"/>
<text x="95.00" y="508.11" font-size="10.2" font-style="italic" fill="#231f20" color="#231f20">Anaerovoracaceae_S5.A14a</text>
<rect x="37.90" y="290.30" width="45.00" height="220.30" fill="none" stroke="#2b2b2b" stroke-width="1.3"/>
<line x1="45.20" y1="514.00" x2="78.00" y2="514.00" stroke="#231f20" stroke-width="1.0"/>
<line x1="45.20" y1="513.60" x2="45.20" y2="516.90" stroke="#231f20" stroke-width="1.0"/>
<line x1="53.20" y1="513.60" x2="53.20" y2="516.90" stroke="#231f20" stroke-width="1.0"/>
<line x1="61.20" y1="513.60" x2="61.20" y2="516.90" stroke="#231f20" stroke-width="1.0"/>
<line x1="69.20" y1="513.60" x2="69.20" y2="516.90" stroke="#231f20" stroke-width="1.0"/>
<line x1="77.20" y1="513.60" x2="77.20" y2="516.90" stroke="#231f20" stroke-width="1.0"/>
<text x="53.50" y="524.90" font-size="9.2" text-anchor="middle" fill="#231f20" color="#231f20">0</text>
<text x="69.40" y="524.90" font-size="9.2" text-anchor="middle" fill="#231f20" color="#231f20">1</text>
<text x="58.90" y="533.50" font-size="8.85" text-anchor="middle" fill="#231f20" color="#231f20">coefficient</text>
<text x="0" y="0" font-size="9.8" fill="#231f20" color="#231f20" transform="translate(85.10 514.00) rotate(90) scale(0.8906 1)">Phylum</text>
<text x="237.60" y="422.90" font-size="8.85" fill="#2b2b2b" color="#2b2b2b">Phylum</text>
<rect x="241.20" y="425.80" width="3.90" height="5.80" fill="#f4e52a" stroke="none" stroke-width="1"/>
<text x="245.30" y="431.70" font-size="8.2" fill="#231f20" color="#231f20">Acidoacteriota</text>
<rect x="241.20" y="432.92" width="3.90" height="5.80" fill="#f7901e" stroke="none" stroke-width="1"/>
<text x="245.30" y="438.82" font-size="8.2" fill="#231f20" color="#231f20">Actionobacteria</text>
<rect x="241.20" y="440.04" width="3.90" height="5.80" fill="#6a2c8f" stroke="none" stroke-width="1"/>
<text x="245.30" y="445.94" font-size="8.2" fill="#231f20" color="#231f20">Bacteroidota</text>
<rect x="241.20" y="447.16" width="3.90" height="5.80" fill="#2db36b" stroke="none" stroke-width="1"/>
<text x="245.30" y="453.06" font-size="8.2" fill="#231f20" color="#231f20">Campilobacterota</text>
<rect x="241.20" y="454.28" width="3.90" height="5.80" fill="#1aa9e8" stroke="none" stroke-width="1"/>
<text x="245.30" y="460.18" font-size="8.2" fill="#231f20" color="#231f20">Firmicutes</text>
<rect x="241.20" y="461.40" width="3.90" height="5.80" fill="#c8203a" stroke="none" stroke-width="1"/>
<text x="245.30" y="467.30" font-size="8.2" fill="#231f20" color="#231f20">Proteobacteria</text>
<rect x="241.20" y="468.52" width="3.90" height="5.80" fill="#231f20" stroke="none" stroke-width="1"/>
<text x="245.30" y="474.42" font-size="8.2" fill="#231f20" color="#231f20">Unknown</text>
<text x="398.00" y="275.40" font-size="14.8" fill="#231f20" color="#231f20">Genus in gut</text>
<rect x="346.90" y="281.25" width="28.80" height="286.25" fill="#e0dede" stroke="none" stroke-width="1"/>
<rect x="346.90" y="281.25" width="7.20" height="7.16" fill="#283070" stroke="none" stroke-width="1"/>
<line x1="348.90" y1="285.83" x2="352.10" y2="285.83" stroke="#4a4a4a" stroke-width="0.8"/>
<line x1="350.50" y1="284.23" x2="350.50" y2="287.43" stroke="#4a4a4a" stroke-width="0.8"/>
<rect x="361.30" y="281.25" width="7.20" height="7.16" fill="#d0d2ec" stroke="none" stroke-width="1"/>
<line x1="363.30" y1="285.83" x2="366.50" y2="285.83" stroke="#4a4a4a" stroke-width="0.8"/>
<line x1="364.90" y1="284.23" x2="364.90" y2="287.43" stroke="#4a4a4a" stroke-width="0.8"/>
<text x="380.10" y="288.45" font-size="8.58" font-style="italic" fill="#231f20" color="#231f20">Lactobacillus</text>
<rect x="354.10" y="288.41" width="7.20" height="7.16" fill="#9ca2d8" stroke="none" stroke-width="1"/>
<line x1="356.10" y1="292.98" x2="359.30" y2="292.98" stroke="#4a4a4a" stroke-width="0.8"/>
<line x1="357.70" y1="291.38" x2="357.70" y2="294.58" stroke="#4a4a4a" stroke-width="0.8"/>
<rect x="368.50" y="288.41" width="7.20" height="7.16" fill="#c9cce8" stroke="none" stroke-width="1"/>
<line x1="370.50" y1="292.98" x2="373.70" y2="292.98" stroke="#4a4a4a" stroke-width="0.8"/>
<line x1="372.10" y1="291.38" x2="372.10" y2="294.58" stroke="#4a4a4a" stroke-width="0.8"/>
<text x="380.10" y="295.61" font-size="8.58" font-style="italic" fill="#231f20" color="#231f20">Aerosphaera</text>
<rect x="354.10" y="295.56" width="7.20" height="7.16" fill="#c9cce8" stroke="none" stroke-width="1"/>
<line x1="356.10" y1="300.14" x2="359.30" y2="300.14" stroke="#4a4a4a" stroke-width="0.8"/>
<line x1="357.70" y1="298.54" x2="357.70" y2="301.74" stroke="#4a4a4a" stroke-width="0.8"/>
<text x="380.10" y="302.76" font-size="8.58" fill="#231f20" color="#231f20">Family: Caulobacteraceae</text>
<rect x="354.10" y="302.72" width="7.20" height="7.16" fill="#c9cce8" stroke="none" stroke-width="1"/>
<line x1="356.10" y1="307.30" x2="359.30" y2="307.30" stroke="#4a4a4a" stroke-width="0.8"/>
<line x1="357.70" y1="305.70" x2="357.70" y2="308.90" stroke="#4a4a4a" stroke-width="0.8"/>
<text x="380.10" y="309.92" font-size="8.58" font-style="italic" fill="#231f20" color="#231f20">Oscillospiraceae_UCG.005</text>
<rect x="346.90" y="309.88" width="7.20" height="7.16" fill="#e5d0d3" stroke="none" stroke-width="1"/>
<line x1="348.90" y1="314.45" x2="352.10" y2="314.45" stroke="#4a4a4a" stroke-width="0.8"/>
<text x="380.10" y="317.07" font-size="8.58" font-style="italic" fill="#231f20" color="#231f20">Anaerovoracaceae_Family_XIII_AD3011_group</text>
<rect x="346.90" y="317.03" width="7.20" height="7.16" fill="#e5d0d3" stroke="none" stroke-width="1"/>
<line x1="348.90" y1="321.61" x2="352.10" y2="321.61" stroke="#4a4a4a" stroke-width="0.8"/>
<text x="380.10" y="324.23" font-size="8.58" font-style="italic" fill="#231f20" color="#231f20">Odoribacter</text>
<rect x="346.90" y="324.19" width="7.20" height="7.16" fill="#e5d0d3" stroke="none" stroke-width="1"/>
<line x1="348.90" y1="328.77" x2="352.10" y2="328.77" stroke="#4a4a4a" stroke-width="0.8"/>
<text x="380.10" y="331.39" font-size="8.58" font-style="italic" fill="#231f20" color="#231f20">Muribaculaceae</text>
<rect x="361.30" y="331.34" width="7.20" height="7.16" fill="#c9cce8" stroke="none" stroke-width="1"/>
<line x1="363.30" y1="335.92" x2="366.50" y2="335.92" stroke="#4a4a4a" stroke-width="0.8"/>
<line x1="364.90" y1="334.32" x2="364.90" y2="337.52" stroke="#4a4a4a" stroke-width="0.8"/>
<text x="380.10" y="338.54" font-size="8.58" font-style="italic" fill="#231f20" color="#231f20">Megasphaera</text>
<rect x="361.30" y="338.50" width="7.20" height="7.16" fill="#c9cce8" stroke="none" stroke-width="1"/>
<line x1="363.30" y1="343.08" x2="366.50" y2="343.08" stroke="#4a4a4a" stroke-width="0.8"/>
<line x1="364.90" y1="341.48" x2="364.90" y2="344.68" stroke="#4a4a4a" stroke-width="0.8"/>
<text x="380.10" y="345.70" font-size="8.58" font-style="italic" fill="#231f20" color="#231f20">Atopobium</text>
<rect x="346.90" y="345.66" width="7.20" height="7.16" fill="#e5d0d3" stroke="none" stroke-width="1"/>
<line x1="348.90" y1="350.23" x2="352.10" y2="350.23" stroke="#4a4a4a" stroke-width="0.8"/>
<text x="380.10" y="352.86" font-size="8.58" font-style="italic" fill="#231f20" color="#231f20">Coprococcus</text>
<rect x="354.10" y="352.81" width="7.20" height="7.16" fill="#cbcde8" stroke="none" stroke-width="1"/>
<line x1="356.10" y1="357.39" x2="359.30" y2="357.39" stroke="#4a4a4a" stroke-width="0.8"/>
<line x1="357.70" y1="355.79" x2="357.70" y2="358.99" stroke="#4a4a4a" stroke-width="0.8"/>
<text x="380.10" y="360.01" font-size="8.58" font-style="italic" fill="#231f20" color="#231f20">Fusicatenibacter</text>
<rect x="361.30" y="359.97" width="7.20" height="7.16" fill="#c9cce8" stroke="none" stroke-width="1"/>
<line x1="363.30" y1="364.55" x2="366.50" y2="364.55" stroke="#4a4a4a" stroke-width="0.8"/>
<line x1="364.90" y1="362.95" x2="364.90" y2="366.15" stroke="#4a4a4a" stroke-width="0.8"/>
<text x="380.10" y="367.17" font-size="8.58" font-style="italic" fill="#231f20" color="#231f20">Phascolarctobacterium</text>
<rect x="368.50" y="367.12" width="7.20" height="7.16" fill="#e5d0d3" stroke="none" stroke-width="1"/>
<line x1="370.50" y1="371.70" x2="373.70" y2="371.70" stroke="#4a4a4a" stroke-width="0.8"/>
<text x="380.10" y="374.32" font-size="8.58" font-style="italic" fill="#231f20" color="#231f20">Bacteroides</text>
<rect x="346.90" y="374.28" width="7.20" height="7.16" fill="#e5d0d3" stroke="none" stroke-width="1"/>
<line x1="348.90" y1="378.86" x2="352.10" y2="378.86" stroke="#4a4a4a" stroke-width="0.8"/>
<text x="380.10" y="381.48" font-size="8.58" font-style="italic" fill="#231f20" color="#231f20">Peptococcus</text>
<rect x="361.30" y="381.44" width="7.20" height="7.16" fill="#c9cce8" stroke="none" stroke-width="1"/>
<line x1="363.30" y1="386.02" x2="366.50" y2="386.02" stroke="#4a4a4a" stroke-width="0.8"/>
<line x1="364.90" y1="384.42" x2="364.90" y2="387.62" stroke="#4a4a4a" stroke-width="0.8"/>
<text x="380.10" y="388.64" font-size="8.58" font-style="italic" fill="#231f20" color="#231f20">Collinsella</text>
<rect x="346.90" y="388.59" width="7.20" height="7.16" fill="#e5d0d3" stroke="none" stroke-width="1"/>
<line x1="348.90" y1="393.17" x2="352.10" y2="393.17" stroke="#4a4a4a" stroke-width="0.8"/>
<text x="380.10" y="395.79" font-size="8.58" font-style="italic" fill="#231f20" color="#231f20">Anaerovoracaceae_S5.A14a</text>
<rect x="346.90" y="395.75" width="7.20" height="7.16" fill="#cbcde8" stroke="none" stroke-width="1"/>
<line x1="348.90" y1="400.33" x2="352.10" y2="400.33" stroke="#4a4a4a" stroke-width="0.8"/>
<line x1="350.50" y1="398.73" x2="350.50" y2="401.93" stroke="#4a4a4a" stroke-width="0.8"/>
<text x="380.10" y="402.95" font-size="8.58" font-style="italic" fill="#231f20" color="#231f20">Streptococcus</text>
<rect x="354.10" y="402.91" width="7.20" height="7.16" fill="#cbcde8" stroke="none" stroke-width="1"/>
<line x1="356.10" y1="407.48" x2="359.30" y2="407.48" stroke="#4a4a4a" stroke-width="0.8"/>
<line x1="357.70" y1="405.88" x2="357.70" y2="409.08" stroke="#4a4a4a" stroke-width="0.8"/>
<text x="380.10" y="410.11" font-size="8.58" font-style="italic" fill="#231f20" color="#231f20">Peptostreptococcus</text>
<rect x="354.10" y="410.06" width="7.20" height="7.16" fill="#cbcde8" stroke="none" stroke-width="1"/>
<line x1="356.10" y1="414.64" x2="359.30" y2="414.64" stroke="#4a4a4a" stroke-width="0.8"/>
<line x1="357.70" y1="413.04" x2="357.70" y2="416.24" stroke="#4a4a4a" stroke-width="0.8"/>
<text x="380.10" y="417.26" font-size="8.58" font-style="italic" fill="#231f20" color="#231f20">Ruminococcus._torques_group</text>
<rect x="361.30" y="417.22" width="7.20" height="7.16" fill="#c9cce8" stroke="none" stroke-width="1"/>
<line x1="363.30" y1="421.80" x2="366.50" y2="421.80" stroke="#4a4a4a" stroke-width="0.8"/>
<line x1="364.90" y1="420.20" x2="364.90" y2="423.40" stroke="#4a4a4a" stroke-width="0.8"/>
<text x="380.10" y="424.42" font-size="8.58" font-style="italic" fill="#231f20" color="#231f20">Slackia</text>
<rect x="346.90" y="424.38" width="7.20" height="7.16" fill="#e5d0d3" stroke="none" stroke-width="1"/>
<line x1="348.90" y1="428.95" x2="352.10" y2="428.95" stroke="#4a4a4a" stroke-width="0.8"/>
<text x="380.10" y="431.57" font-size="8.58" font-style="italic" fill="#231f20" color="#231f20">Oscillospiraceae_UCG.002</text>
<rect x="346.90" y="431.53" width="7.20" height="7.16" fill="#e5d0d3" stroke="none" stroke-width="1"/>
<line x1="348.90" y1="436.11" x2="352.10" y2="436.11" stroke="#4a4a4a" stroke-width="0.8"/>
<text x="380.10" y="438.73" font-size="8.58" font-style="italic" fill="#231f20" color="#231f20">Ruminococcaceae_CAG.352</text>
<rect x="354.10" y="438.69" width="7.20" height="7.16" fill="#cbcde8" stroke="none" stroke-width="1"/>
<line x1="356.10" y1="443.27" x2="359.30" y2="443.27" stroke="#4a4a4a" stroke-width="0.8"/>
<line x1="357.70" y1="441.67" x2="357.70" y2="444.87" stroke="#4a4a4a" stroke-width="0.8"/>
<text x="380.10" y="445.89" font-size="8.58" font-style="italic" fill="#231f20" color="#231f20">Agathobacter</text>
<rect x="361.30" y="445.84" width="7.20" height="7.16" fill="#c9cce8" stroke="none" stroke-width="1"/>
<line x1="363.30" y1="450.42" x2="366.50" y2="450.42" stroke="#4a4a4a" stroke-width="0.8"/>
<line x1="364.90" y1="448.82" x2="364.90" y2="452.02" stroke="#4a4a4a" stroke-width="0.8"/>
<text x="380.10" y="453.04" font-size="8.58" font-style="italic" fill="#231f20" color="#231f20">Gardnerella</text>
<rect x="346.90" y="453.00" width="7.20" height="7.16" fill="#e5d0d3" stroke="none" stroke-width="1"/>
<line x1="348.90" y1="457.58" x2="352.10" y2="457.58" stroke="#4a4a4a" stroke-width="0.8"/>
<text x="380.10" y="460.20" font-size="8.58" font-style="italic" fill="#231f20" color="#231f20">Oscillospiraceae_NK4A214_group</text>
<rect x="346.90" y="460.16" width="7.20" height="7.16" fill="#e5d0d3" stroke="none" stroke-width="1"/>
<line x1="348.90" y1="464.73" x2="352.10" y2="464.73" stroke="#4a4a4a" stroke-width="0.8"/>
<text x="380.10" y="467.36" font-size="8.58" font-style="italic" fill="#231f20" color="#231f20">Lachnospiraceae_Eubacterium_ventriosum_group</text>
<rect x="361.30" y="467.31" width="7.20" height="7.16" fill="#e5d0d3" stroke="none" stroke-width="1"/>
<line x1="363.30" y1="471.89" x2="366.50" y2="471.89" stroke="#4a4a4a" stroke-width="0.8"/>
<text x="380.10" y="474.51" font-size="8.58" font-style="italic" fill="#231f20" color="#231f20">Acidibacter</text>
<rect x="354.10" y="474.47" width="7.20" height="7.16" fill="#cbcde8" stroke="none" stroke-width="1"/>
<line x1="356.10" y1="479.05" x2="359.30" y2="479.05" stroke="#4a4a4a" stroke-width="0.8"/>
<line x1="357.70" y1="477.45" x2="357.70" y2="480.65" stroke="#4a4a4a" stroke-width="0.8"/>
<text x="380.10" y="481.67" font-size="8.58" fill="#231f20" color="#231f20">Family: Oscillospiraceae</text>
<rect x="354.10" y="481.62" width="7.20" height="7.16" fill="#cbcde8" stroke="none" stroke-width="1"/>
<line x1="356.10" y1="486.20" x2="359.30" y2="486.20" stroke="#4a4a4a" stroke-width="0.8"/>
<line x1="357.70" y1="484.60" x2="357.70" y2="487.80" stroke="#4a4a4a" stroke-width="0.8"/>
<text x="380.10" y="488.82" font-size="8.58" font-style="italic" fill="#231f20" color="#231f20">Ruminococcus</text>
<rect x="361.30" y="488.78" width="7.20" height="7.16" fill="#e5d0d3" stroke="none" stroke-width="1"/>
<line x1="363.30" y1="493.36" x2="366.50" y2="493.36" stroke="#4a4a4a" stroke-width="0.8"/>
<text x="380.10" y="495.98" font-size="8.58" font-style="italic" fill="#231f20" color="#231f20">Sphingomonas</text>
<rect x="346.90" y="495.94" width="7.20" height="7.16" fill="#e5d0d3" stroke="none" stroke-width="1"/>
<line x1="348.90" y1="500.52" x2="352.10" y2="500.52" stroke="#4a4a4a" stroke-width="0.8"/>
<text x="380.10" y="503.14" font-size="8.58" font-style="italic" fill="#231f20" color="#231f20">Eubacterium_coprostanoligenes_group</text>
<rect x="346.90" y="503.09" width="7.20" height="7.16" fill="#e5d0d3" stroke="none" stroke-width="1"/>
<line x1="348.90" y1="507.67" x2="352.10" y2="507.67" stroke="#4a4a4a" stroke-width="0.8"/>
<text x="380.10" y="510.29" font-size="8.58" font-style="italic" fill="#231f20" color="#231f20">Fastidiosipila</text>
<rect x="368.50" y="510.25" width="7.20" height="7.16" fill="#e5d0d3" stroke="none" stroke-width="1"/>
<line x1="370.50" y1="514.83" x2="373.70" y2="514.83" stroke="#4a4a4a" stroke-width="0.8"/>
<text x="380.10" y="517.45" font-size="8.58" font-style="italic" fill="#231f20" color="#231f20">Alistipes</text>
<rect x="368.50" y="517.41" width="7.20" height="7.16" fill="#e5d0d3" stroke="none" stroke-width="1"/>
<line x1="370.50" y1="521.98" x2="373.70" y2="521.98" stroke="#4a4a4a" stroke-width="0.8"/>
<text x="380.10" y="524.61" font-size="8.58" font-style="italic" fill="#231f20" color="#231f20">Flavonifractor</text>
<rect x="368.50" y="524.56" width="7.20" height="7.16" fill="#c9cce8" stroke="none" stroke-width="1"/>
<line x1="370.50" y1="529.14" x2="373.70" y2="529.14" stroke="#4a4a4a" stroke-width="0.8"/>
<line x1="372.10" y1="527.54" x2="372.10" y2="530.74" stroke="#4a4a4a" stroke-width="0.8"/>
<text x="380.10" y="531.76" font-size="8.58" font-style="italic" fill="#231f20" color="#231f20">Staphylococcus</text>
<rect x="346.90" y="531.72" width="7.20" height="7.16" fill="#cbcde8" stroke="none" stroke-width="1"/>
<line x1="348.90" y1="536.30" x2="352.10" y2="536.30" stroke="#4a4a4a" stroke-width="0.8"/>
<line x1="350.50" y1="534.70" x2="350.50" y2="537.90" stroke="#4a4a4a" stroke-width="0.8"/>
<text x="380.10" y="538.92" font-size="8.58" font-style="italic" fill="#231f20" color="#231f20">Negativicoccus</text>
<rect x="354.10" y="538.88" width="7.20" height="7.16" fill="#e5d0d3" stroke="none" stroke-width="1"/>
<line x1="356.10" y1="543.45" x2="359.30" y2="543.45" stroke="#4a4a4a" stroke-width="0.8"/>
<text x="380.10" y="546.08" font-size="8.58" font-style="italic" fill="#231f20" color="#231f20">Lawsonella</text>
<rect x="346.90" y="546.03" width="7.20" height="7.16" fill="#cbcde8" stroke="none" stroke-width="1"/>
<line x1="348.90" y1="550.61" x2="352.10" y2="550.61" stroke="#4a4a4a" stroke-width="0.8"/>
<line x1="350.50" y1="549.01" x2="350.50" y2="552.21" stroke="#4a4a4a" stroke-width="0.8"/>
<text x="380.10" y="553.23" font-size="8.58" font-style="italic" fill="#231f20" color="#231f20">Anaerococcus</text>
<rect x="346.90" y="553.19" width="7.20" height="7.16" fill="#e5d0d3" stroke="none" stroke-width="1"/>
<line x1="348.90" y1="557.77" x2="352.10" y2="557.77" stroke="#4a4a4a" stroke-width="0.8"/>
<text x="380.10" y="560.39" font-size="8.58" font-style="italic" fill="#231f20" color="#231f20">Christensenellaceae_R.7_group</text>
<rect x="346.90" y="560.34" width="7.20" height="7.16" fill="#e5d0d3" stroke="none" stroke-width="1"/>
<line x1="348.90" y1="564.92" x2="352.10" y2="564.92" stroke="#4a4a4a" stroke-width="0.8"/>
<text x="380.10" y="567.54" font-size="8.58" font-style="italic" fill="#231f20" color="#231f20">Parvimonas</text>
<line x1="346.90" y1="281.25" x2="346.90" y2="567.50" stroke="#5f5546" stroke-width="0.9"/>
<line x1="354.10" y1="281.25" x2="354.10" y2="567.50" stroke="#5f5546" stroke-width="0.9"/>
<line x1="361.30" y1="281.25" x2="361.30" y2="567.50" stroke="#5f5546" stroke-width="0.9"/>
<line x1="368.50" y1="281.25" x2="368.50" y2="567.50" stroke="#5f5546" stroke-width="0.9"/>
<line x1="375.70" y1="281.25" x2="375.70" y2="567.50" stroke="#5f5546" stroke-width="0.9"/>
<line x1="346.90" y1="281.25" x2="375.70" y2="281.25" stroke="#5f5546" stroke-width="0.9"/>
<line x1="346.90" y1="288.41" x2="375.70" y2="288.41" stroke="#5f5546" stroke-width="0.9"/>
<line x1="346.90" y1="295.56" x2="375.70" y2="295.56" stroke="#5f5546" stroke-width="0.9"/>
<line x1="346.90" y1="302.72" x2="375.70" y2="302.72" stroke="#5f5546" stroke-width="0.9"/>
<line x1="346.90" y1="309.88" x2="375.70" y2="309.88" stroke="#5f5546" stroke-width="0.9"/>
<line x1="346.90" y1="317.03" x2="375.70" y2="317.03" stroke="#5f5546" stroke-width="0.9"/>
<line x1="346.90" y1="324.19" x2="375.70" y2="324.19" stroke="#5f5546" stroke-width="0.9"/>
<line x1="346.90" y1="331.34" x2="375.70" y2="331.34" stroke="#5f5546" stroke-width="0.9"/>
<line x1="346.90" y1="338.50" x2="375.70" y2="338.50" stroke="#5f5546" stroke-width="0.9"/>
<line x1="346.90" y1="345.66" x2="375.70" y2="345.66" stroke="#5f5546" stroke-width="0.9"/>
<line x1="346.90" y1="352.81" x2="375.70" y2="352.81" stroke="#5f5546" stroke-width="0.9"/>
<line x1="346.90" y1="359.97" x2="375.70" y2="359.97" stroke="#5f5546" stroke-width="0.9"/>
<line x1="346.90" y1="367.12" x2="375.70" y2="367.12" stroke="#5f5546" stroke-width="0.9"/>
<line x1="346.90" y1="374.28" x2="375.70" y2="374.28" stroke="#5f5546" stroke-width="0.9"/>
<line x1="346.90" y1="381.44" x2="375.70" y2="381.44" stroke="#5f5546" stroke-width="0.9"/>
<line x1="346.90" y1="388.59" x2="375.70" y2="388.59" stroke="#5f5546" stroke-width="0.9"/>
<line x1="346.90" y1="395.75" x2="375.70" y2="395.75" stroke="#5f5546" stroke-width="0.9"/>
<line x1="346.90" y1="402.91" x2="375.70" y2="402.91" stroke="#5f5546" stroke-width="0.9"/>
<line x1="346.90" y1="410.06" x2="375.70" y2="410.06" stroke="#5f5546" stroke-width="0.9"/>
<line x1="346.90" y1="417.22" x2="375.70" y2="417.22" stroke="#5f5546" stroke-width="0.9"/>
<line x1="346.90" y1="424.38" x2="375.70" y2="424.38" stroke="#5f5546" stroke-width="0.9"/>
<line x1="346.90" y1="431.53" x2="375.70" y2="431.53" stroke="#5f5546" stroke-width="0.9"/>
<line x1="346.90" y1="438.69" x2="375.70" y2="438.69" stroke="#5f5546" stroke-width="0.9"/>
<line x1="346.90" y1="445.84" x2="375.70" y2="445.84" stroke="#5f5546" stroke-width="0.9"/>
<line x1="346.90" y1="453.00" x2="375.70" y2="453.00" stroke="#5f5546" stroke-width="0.9"/>
<line x1="346.90" y1="460.16" x2="375.70" y2="460.16" stroke="#5f5546" stroke-width="0.9"/>
<line x1="346.90" y1="467.31" x2="375.70" y2="467.31" stroke="#5f5546" stroke-width="0.9"/>
<line x1="346.90" y1="474.47" x2="375.70" y2="474.47" stroke="#5f5546" stroke-width="0.9"/>
<line x1="346.90" y1="481.62" x2="375.70" y2="481.62" stroke="#5f5546" stroke-width="0.9"/>
<line x1="346.90" y1="488.78" x2="375.70" y2="488.78" stroke="#5f5546" stroke-width="0.9"/>
<line x1="346.90" y1="495.94" x2="375.70" y2="495.94" stroke="#5f5546" stroke-width="0.9"/>
<line x1="346.90" y1="503.09" x2="375.70" y2="503.09" stroke="#5f5546" stroke-width="0.9"/>
<line x1="346.90" y1="510.25" x2="375.70" y2="510.25" stroke="#5f5546" stroke-width="0.9"/>
<line x1="346.90" y1="517.41" x2="375.70" y2="517.41" stroke="#5f5546" stroke-width="0.9"/>
<line x1="346.90" y1="524.56" x2="375.70" y2="524.56" stroke="#5f5546" stroke-width="0.9"/>
<line x1="346.90" y1="531.72" x2="375.70" y2="531.72" stroke="#5f5546" stroke-width="0.9"/>
<line x1="346.90" y1="538.88" x2="375.70" y2="538.88" stroke="#5f5546" stroke-width="0.9"/>
<line x1="346.90" y1="546.03" x2="375.70" y2="546.03" stroke="#5f5546" stroke-width="0.9"/>
<line x1="346.90" y1="553.19" x2="375.70" y2="553.19" stroke="#5f5546" stroke-width="0.9"/>
<line x1="346.90" y1="560.34" x2="375.70" y2="560.34" stroke="#5f5546" stroke-width="0.9"/>
<line x1="346.90" y1="567.50" x2="375.70" y2="567.50" stroke="#5f5546" stroke-width="0.9"/>
<text x="347.30" y="572.30" font-size="8.6" font-style="italic" fill="#231f20" color="#231f20" transform="rotate(90 347.30 572.30)">L. crispatus group</text>
<text x="354.50" y="572.30" font-size="8.6" font-style="italic" fill="#231f20" color="#231f20" transform="rotate(90 354.50 572.30)">L. jensenii group</text>
<text x="361.70" y="572.30" font-size="8.6" font-style="italic" fill="#231f20" color="#231f20" transform="rotate(90 361.70 572.30)">L. iners group</text>
<text x="368.90" y="572.30" font-size="8.6" font-style="italic" fill="#231f20" color="#231f20" transform="rotate(90 368.90 572.30)">L. gasseri group</text>
<rect x="603.20" y="312.40" width="9.10" height="4.73" fill="#293276" stroke="none" stroke-width="1"/>
<rect x="603.20" y="316.83" width="9.10" height="4.73" fill="#2b3682" stroke="none" stroke-width="1"/>
<rect x="603.20" y="321.26" width="9.10" height="4.73" fill="#2d3b8f" stroke="none" stroke-width="1"/>
<rect x="603.20" y="325.69" width="9.10" height="4.73" fill="#2f3f9b" stroke="none" stroke-width="1"/>
<rect x="603.20" y="330.12" width="9.10" height="4.73" fill="#3848a3" stroke="none" stroke-width="1"/>
<rect x="603.20" y="334.55" width="9.10" height="4.73" fill="#4352a9" stroke="none" stroke-width="1"/>
<rect x="603.20" y="338.98" width="9.10" height="4.73" fill="#4d5cb0" stroke="none" stroke-width="1"/>
<rect x="603.20" y="343.41" width="9.10" height="4.73" fill="#5866b6" stroke="none" stroke-width="1"/>
<rect x="603.20" y="347.84" width="9.10" height="4.73" fill="#6b77be" stroke="none" stroke-width="1"/>
<rect x="603.20" y="352.27" width="9.10" height="4.73" fill="#7e88c6" stroke="none" stroke-width="1"/>
<rect x="603.20" y="356.70" width="9.10" height="4.73" fill="#9299ce" stroke="none" stroke-width="1"/>
<rect x="603.20" y="361.13" width="9.10" height="4.73" fill="#a4aad5" stroke="none" stroke-width="1"/>
<rect x="603.20" y="365.56" width="9.10" height="4.73" fill="#b4b8d7" stroke="none" stroke-width="1"/>
<rect x="603.20" y="369.99" width="9.10" height="4.73" fill="#c5c6d9" stroke="none" stroke-width="1"/>
<rect x="603.20" y="374.42" width="9.10" height="4.73" fill="#d5d5db" stroke="none" stroke-width="1"/>
<rect x="603.20" y="378.85" width="9.10" height="4.73" fill="#dcd5d6" stroke="none" stroke-width="1"/>
<rect x="603.20" y="383.28" width="9.10" height="4.73" fill="#dac7ca" stroke="none" stroke-width="1"/>
<rect x="603.20" y="387.71" width="9.10" height="4.73" fill="#d8b9bd" stroke="none" stroke-width="1"/>
<rect x="603.20" y="392.14" width="9.10" height="4.73" fill="#d6abb1" stroke="none" stroke-width="1"/>
<rect x="603.20" y="396.57" width="9.10" height="4.73" fill="#d19aa1" stroke="none" stroke-width="1"/>
<rect x="603.20" y="401.00" width="9.10" height="4.73" fill="#cb8790" stroke="none" stroke-width="1"/>
<rect x="603.20" y="405.43" width="9.10" height="4.73" fill="#c4757f" stroke="none" stroke-width="1"/>
<rect x="603.20" y="409.86" width="9.10" height="4.73" fill="#be626e" stroke="none" stroke-width="1"/>
<rect x="603.20" y="414.29" width="9.10" height="4.73" fill="#b65561" stroke="none" stroke-width="1"/>
<rect x="603.20" y="418.72" width="9.10" height="4.73" fill="#ae4753" stroke="none" stroke-width="1"/>
<rect x="603.20" y="423.15" width="9.10" height="4.73" fill="#a63a46" stroke="none" stroke-width="1"/>
<rect x="603.20" y="427.58" width="9.10" height="4.73" fill="#9d2f3a" stroke="none" stroke-width="1"/>
<rect x="603.20" y="432.01" width="9.10" height="4.73" fill="#932934" stroke="none" stroke-width="1"/>
<rect x="603.20" y="436.44" width="9.10" height="4.73" fill="#89232e" stroke="none" stroke-width="1"/>
<rect x="603.20" y="440.87" width="9.10" height="4.73" fill="#7f1d27" stroke="none" stroke-width="1"/>
<text x="616.20" y="315.10" font-size="7.5" fill="#231f20" color="#231f20">20</text>
<text x="616.20" y="348.32" font-size="7.5" fill="#231f20" color="#231f20">10</text>
<text x="616.20" y="381.55" font-size="7.5" fill="#231f20" color="#231f20">0</text>
<text x="616.20" y="414.77" font-size="7.5" fill="#231f20" color="#231f20">−10</text>
<text x="616.20" y="448.00" font-size="7.5" fill="#231f20" color="#231f20">−20</text>
<text x="570.00" y="293.60" font-size="8.45" fill="#231f20" color="#231f20">Significant associations</text>
<text x="573.00" y="303.20" font-size="8.45" fill="#231f20" color="#231f20">(−log(qval)*sign(coeff))</text>
</svg>
</body></html>
